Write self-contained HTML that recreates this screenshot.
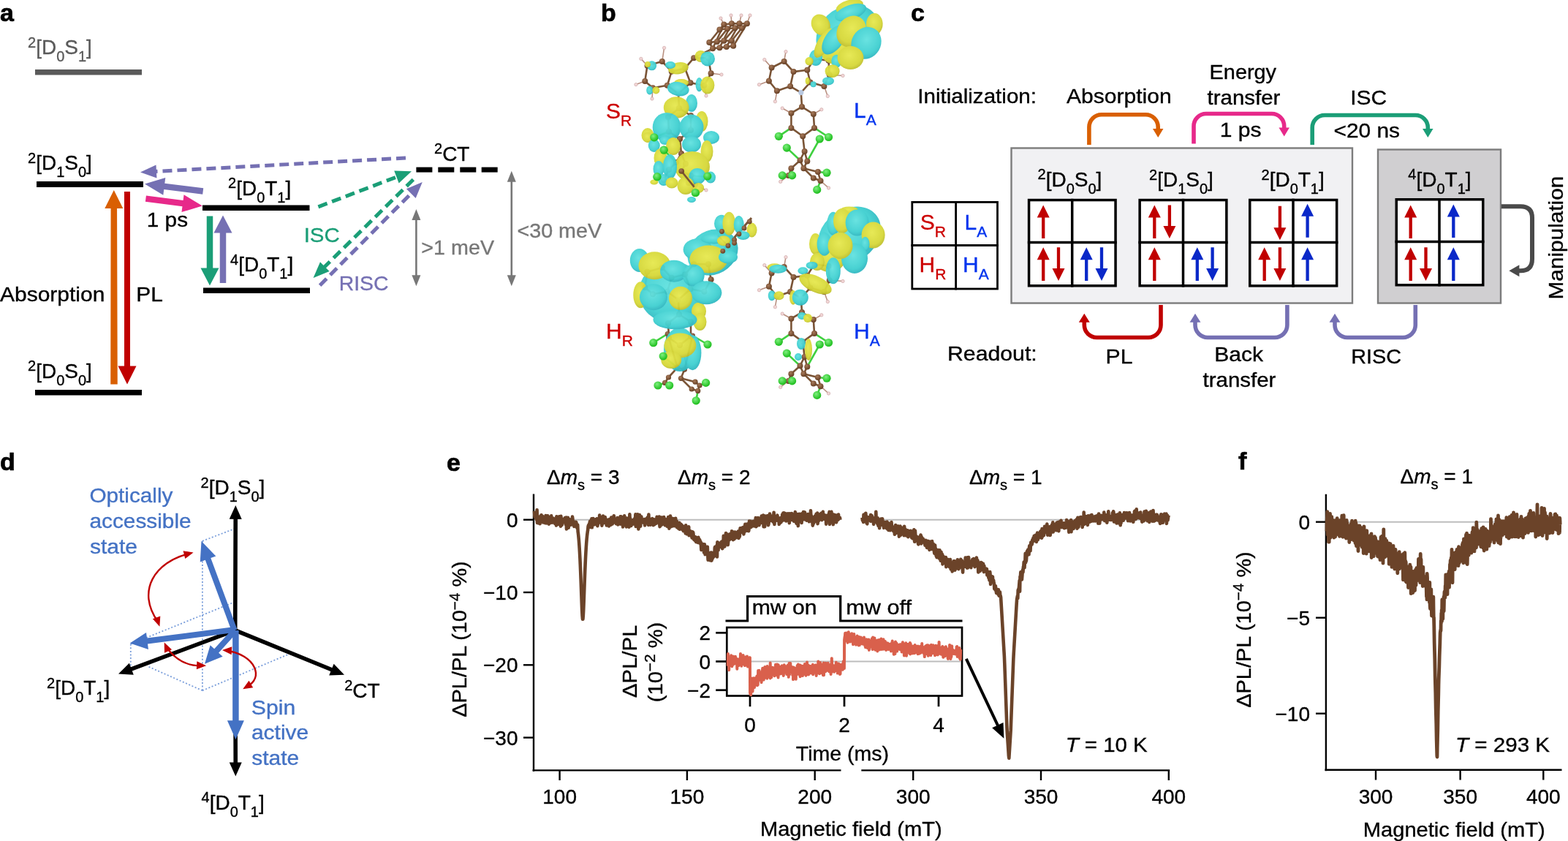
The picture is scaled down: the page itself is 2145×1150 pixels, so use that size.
<!DOCTYPE html>
<html><head><meta charset="utf-8"><title>Figure</title>
<style>
html,body{margin:0;padding:0;background:#fff;width:2145px;height:1150px;overflow:hidden}
svg{display:block}
text{font-family:'Liberation Sans', Arial, Helvetica, sans-serif;}
</style></head><body>
<svg width="2145" height="1150" viewBox="0 0 2145 1150">
<rect x="0" y="0" width="2145" height="1150" fill="#fff"/>
<text x="0" y="29" font-size="34" fill="#000" text-anchor="start" font-weight="bold" stroke="#000" stroke-width="0.7">a</text>
<text x="38" y="74" font-size="28" fill="#5a5a5a"  stroke="#5a5a5a" stroke-width="0.35"><tspan font-size="20" dy="-9.5">2</tspan><tspan dy="9.5">[D</tspan><tspan font-size="20" dy="10">0</tspan><tspan dy="-10">S</tspan><tspan font-size="20" dy="10">1</tspan><tspan dy="-10">]</tspan></text>
<rect x="48" y="95" width="146" height="7.5" fill="#5a5a5a" />
<text x="38" y="232" font-size="28" fill="#000"  stroke="#000" stroke-width="0.35"><tspan font-size="20" dy="-9.5">2</tspan><tspan dy="9.5">[D</tspan><tspan font-size="20" dy="10">1</tspan><tspan dy="-10">S</tspan><tspan font-size="20" dy="10">0</tspan><tspan dy="-10">]</tspan></text>
<rect x="50" y="248" width="146" height="8" fill="#000" />
<text x="38" y="516.7" font-size="28" fill="#000"  stroke="#000" stroke-width="0.35"><tspan font-size="20" dy="-9.5">2</tspan><tspan dy="9.5">[D</tspan><tspan font-size="20" dy="10">0</tspan><tspan dy="-10">S</tspan><tspan font-size="20" dy="10">0</tspan><tspan dy="-10">]</tspan></text>
<rect x="48" y="533" width="146" height="7.5" fill="#000" />
<text x="312" y="266.6" font-size="28" fill="#000"  stroke="#000" stroke-width="0.35"><tspan font-size="20" dy="-9.5">2</tspan><tspan dy="9.5">[D</tspan><tspan font-size="20" dy="10">0</tspan><tspan dy="-10">T</tspan><tspan font-size="20" dy="10">1</tspan><tspan dy="-10">]</tspan></text>
<rect x="277" y="280.5" width="146.5" height="7.5" fill="#000" />
<text x="315" y="371.4" font-size="28" fill="#000"  stroke="#000" stroke-width="0.35"><tspan font-size="20" dy="-9.5">4</tspan><tspan dy="9.5">[D</tspan><tspan font-size="20" dy="10">0</tspan><tspan dy="-10">T</tspan><tspan font-size="20" dy="10">1</tspan><tspan dy="-10">]</tspan></text>
<rect x="278" y="393.5" width="146" height="7.5" fill="#000" />
<text x="594" y="219.5" font-size="28" fill="#000" stroke="#000" stroke-width="0.35"><tspan font-size="20" dy="-9.5">2</tspan><tspan dy="9.5">CT</tspan></text>
<rect x="569.4" y="228.6" width="22" height="7" fill="#000" />
<rect x="599.3" y="228.6" width="22" height="7" fill="#000" />
<rect x="629.3" y="228.6" width="22" height="7" fill="#000" />
<rect x="658.7" y="228.6" width="22" height="7" fill="#000" />
<polygon points="160.75,525.5 160.07,285 168.32,284.99 155.8,260 143.32,285.01 151.57,285 151.25,525.5" fill="#d95f02"/>
<polygon points="170,262 170,500.5 161.5,500.5 174,525.5 186.5,500.5 178,500.5 178,262" fill="#c00000"/>
<text x="0" y="411.8" font-size="28" fill="#000" textLength="143.39" lengthAdjust="spacingAndGlyphs"  stroke="#000" stroke-width="0.35">Absorption</text>
<text x="186.34" y="411.8" font-size="28" fill="#000" textLength="36.56" lengthAdjust="spacingAndGlyphs"  stroke="#000" stroke-width="0.35">PL</text>
<polygon points="198.86,275.81 249.48,282.36 248.48,290.04 276.8,281.6 251.56,266.24 250.57,273.93 199.94,267.39" fill="#e7298a"/>
<polygon points="278.23,257.28 225.32,250.64 226.28,242.95 198,251.5 223.3,266.77 224.26,259.08 277.17,265.72" fill="#7570b3"/>
<text x="200.77" y="310" font-size="28" fill="#000" textLength="56.32" lengthAdjust="spacingAndGlyphs"  stroke="#000" stroke-width="0.35">1 ps</text>
<polygon points="282.75,295.4 282.75,366.6 274.5,366.6 287,390.6 299.5,366.6 291.25,366.6 291.25,295.4" fill="#1b9e77"/>
<polygon points="309.25,387 309.25,318.5 317.5,318.5 305,294.5 292.5,318.5 300.75,318.5 300.75,387" fill="#7570b3"/>
<line x1="555" y1="216" x2="211.97" y2="234.52" stroke="#7570b3" stroke-width="5" stroke-dasharray="13 7"/>
<polygon points="213.48,225.43 192,235.6 214.45,243.4" fill="#7570b3"/>
<line x1="435.4" y1="282.8" x2="544.31" y2="241.32" stroke="#1b9e77" stroke-width="5" stroke-dasharray="13 7"/>
<polygon points="545.64,250.44 563,234.2 539.24,233.62" fill="#1b9e77"/>
<line x1="565.4" y1="245.5" x2="442.86" y2="365.98" stroke="#1b9e77" stroke-width="5" stroke-dasharray="13 7"/>
<polygon points="437.98,358.16 428.6,380 450.6,370.99" fill="#1b9e77"/>
<line x1="437.6" y1="390.2" x2="563.71" y2="263.19" stroke="#7570b3" stroke-width="5" stroke-dasharray="13 7"/>
<polygon points="568.69,270.95 577.8,249 555.91,258.27" fill="#7570b3"/>
<text x="415.67" y="331" font-size="28" fill="#1b9e77" textLength="49.06" lengthAdjust="spacingAndGlyphs"  stroke="#1b9e77" stroke-width="0.35">ISC</text>
<text x="463.67" y="397" font-size="28" fill="#7570b3" textLength="67.74" lengthAdjust="spacingAndGlyphs"  stroke="#7570b3" stroke-width="0.35">RISC</text>
<line x1="569.4" y1="299" x2="569.4" y2="378.3" stroke="#777777" stroke-width="2.6" />
<polygon points="575.4,301 569.4,286 563.4,301" fill="#777777"/>
<polygon points="563.4,376.3 569.4,391.3 575.4,376.3" fill="#777777"/>
<line x1="699.8" y1="246.8" x2="699.8" y2="378.3" stroke="#777777" stroke-width="2.6" />
<polygon points="705.8,248.8 699.8,233.8 693.8,248.8" fill="#777777"/>
<polygon points="693.8,376.3 699.8,391.3 705.8,376.3" fill="#777777"/>
<text x="576.36" y="347.7" font-size="28" fill="#777777" textLength="99.71" lengthAdjust="spacingAndGlyphs"  stroke="#777777" stroke-width="0.35">&gt;1 meV</text>
<text x="707.47" y="324.7" font-size="28" fill="#777777" textLength="115.58" lengthAdjust="spacingAndGlyphs"  stroke="#777777" stroke-width="0.35">&lt;30 meV</text>
<text x="822" y="29" font-size="34" fill="#000" text-anchor="start" font-weight="bold" stroke="#000" stroke-width="0.7">b</text>
<text x="829" y="162" font-size="30" fill="#cc0000" stroke="#cc0000" stroke-width="0.35">S<tspan font-size="21" dy="10">R</tspan></text>
<text x="1168" y="161" font-size="30" fill="#0033ee" stroke="#0033ee" stroke-width="0.35">L<tspan font-size="21" dy="10">A</tspan></text>
<text x="829" y="462.8" font-size="30" fill="#cc0000" stroke="#cc0000" stroke-width="0.35">H<tspan font-size="21" dy="10">R</tspan></text>
<text x="1168" y="462.8" font-size="30" fill="#0033ee" stroke="#0033ee" stroke-width="0.35">H<tspan font-size="21" dy="10">A</tspan></text>
<defs>
<radialGradient id="gc" cx="45%" cy="40%" r="65%"><stop offset="0" stop-color="#62e2e0"/><stop offset="0.7" stop-color="#3fcfd0"/><stop offset="1" stop-color="#2aaebb"/></radialGradient>
<radialGradient id="gy" cx="45%" cy="40%" r="65%"><stop offset="0" stop-color="#e6e84e"/><stop offset="0.7" stop-color="#d6d838"/><stop offset="1" stop-color="#b8b82a"/></radialGradient>
<radialGradient id="gcl" cx="40%" cy="35%" r="60%"><stop offset="0" stop-color="#7ef07e"/><stop offset="1" stop-color="#22c022"/></radialGradient>
<radialGradient id="gbr" cx="40%" cy="35%" r="60%"><stop offset="0" stop-color="#a87a5a"/><stop offset="1" stop-color="#6a4328"/></radialGradient>
</defs>
<line x1="905.8" y1="83.9" x2="885.5" y2="89.8" stroke="#7a5436" stroke-width="2.6"/>
<line x1="885.5" y1="89.8" x2="882.3" y2="110.9" stroke="#7a5436" stroke-width="2.6"/>
<line x1="882.3" y1="110.9" x2="893" y2="120.3" stroke="#7a5436" stroke-width="2.6"/>
<line x1="893" y1="120.3" x2="912.8" y2="116.8" stroke="#7a5436" stroke-width="2.6"/>
<line x1="912.8" y1="116.8" x2="918.7" y2="97.8" stroke="#7a5436" stroke-width="2.6"/>
<line x1="918.7" y1="97.8" x2="905.8" y2="83.9" stroke="#7a5436" stroke-width="2.6"/>
<line x1="918.7" y1="97.8" x2="937" y2="93.3" stroke="#7a5436" stroke-width="2.6"/>
<line x1="937" y1="93.3" x2="944.5" y2="113.3" stroke="#7a5436" stroke-width="2.6"/>
<line x1="944.5" y1="113.3" x2="928" y2="128" stroke="#7a5436" stroke-width="2.6"/>
<line x1="928" y1="128" x2="912.8" y2="116.8" stroke="#7a5436" stroke-width="2.6"/>
<line x1="937" y1="93.3" x2="949.2" y2="79.2" stroke="#7a5436" stroke-width="2.6"/>
<line x1="949.2" y1="79.2" x2="969" y2="79.2" stroke="#7a5436" stroke-width="2.6"/>
<line x1="969" y1="79.2" x2="972.6" y2="100.3" stroke="#7a5436" stroke-width="2.6"/>
<line x1="972.6" y1="100.3" x2="963.4" y2="116.8" stroke="#7a5436" stroke-width="2.6"/>
<line x1="963.4" y1="116.8" x2="944.5" y2="113.3" stroke="#7a5436" stroke-width="2.6"/>
<line x1="928" y1="128" x2="929" y2="148" stroke="#7a5436" stroke-width="2.6"/>
<line x1="929" y1="148" x2="914" y2="160" stroke="#7a5436" stroke-width="2.6"/>
<line x1="914" y1="160" x2="915" y2="180" stroke="#7a5436" stroke-width="2.6"/>
<line x1="915" y1="180" x2="930" y2="190" stroke="#7a5436" stroke-width="2.6"/>
<line x1="930" y1="190" x2="945" y2="178" stroke="#7a5436" stroke-width="2.6"/>
<line x1="945" y1="178" x2="945" y2="158" stroke="#7a5436" stroke-width="2.6"/>
<line x1="945" y1="158" x2="929" y2="148" stroke="#7a5436" stroke-width="2.6"/>
<line x1="930" y1="190" x2="932" y2="210" stroke="#7a5436" stroke-width="2.6"/>
<line x1="932" y1="210" x2="925" y2="222" stroke="#7a5436" stroke-width="2.6"/>
<line x1="932" y1="210" x2="938" y2="224" stroke="#7a5436" stroke-width="2.6"/>
<line x1="925" y1="222" x2="915" y2="232" stroke="#7a5436" stroke-width="2.6"/>
<line x1="915" y1="232" x2="908" y2="246" stroke="#7a5436" stroke-width="2.6"/>
<line x1="938" y1="224" x2="932" y2="234" stroke="#7a5436" stroke-width="2.6"/>
<line x1="932" y1="234" x2="945" y2="240" stroke="#7a5436" stroke-width="2.6"/>
<line x1="945" y1="240" x2="951" y2="253" stroke="#7a5436" stroke-width="2.6"/>
<line x1="951" y1="253" x2="942" y2="250" stroke="#7a5436" stroke-width="2.6"/>
<line x1="942" y1="250" x2="932" y2="234" stroke="#7a5436" stroke-width="2.6"/>
<line x1="970.3" y1="58" x2="975" y2="66.3" stroke="#7a5436" stroke-width="2.6"/>
<line x1="975" y1="66.3" x2="984.4" y2="65.2" stroke="#7a5436" stroke-width="2.6"/>
<line x1="984.4" y1="65.2" x2="993.8" y2="64" stroke="#7a5436" stroke-width="2.6"/>
<line x1="993.8" y1="64" x2="1003.2" y2="62.8" stroke="#7a5436" stroke-width="2.6"/>
<line x1="970.3" y1="58" x2="980.9" y2="56.9" stroke="#7a5436" stroke-width="2.6"/>
<line x1="980.9" y1="56.9" x2="990.3" y2="55.7" stroke="#7a5436" stroke-width="2.6"/>
<line x1="990.3" y1="55.7" x2="1000.9" y2="55.7" stroke="#7a5436" stroke-width="2.6"/>
<line x1="1000.9" y1="55.7" x2="1003.2" y2="62.8" stroke="#7a5436" stroke-width="2.6"/>
<line x1="984.4" y1="40.5" x2="990.3" y2="33.5" stroke="#7a5436" stroke-width="2.6"/>
<line x1="984.4" y1="40.5" x2="995" y2="39.3" stroke="#7a5436" stroke-width="2.6"/>
<line x1="995" y1="39.3" x2="1005.5" y2="38.2" stroke="#7a5436" stroke-width="2.6"/>
<line x1="1005.5" y1="38.2" x2="1014.9" y2="38.2" stroke="#7a5436" stroke-width="2.6"/>
<line x1="1014.9" y1="38.2" x2="1021.9" y2="32.3" stroke="#7a5436" stroke-width="2.6"/>
<line x1="990.3" y1="33.5" x2="1000.9" y2="32.3" stroke="#7a5436" stroke-width="2.6"/>
<line x1="1000.9" y1="32.3" x2="1011.4" y2="32.3" stroke="#7a5436" stroke-width="2.6"/>
<line x1="1011.4" y1="32.3" x2="1021.9" y2="32.3" stroke="#7a5436" stroke-width="2.6"/>
<line x1="970.3" y1="58" x2="984.4" y2="40.5" stroke="#7a5436" stroke-width="2.6"/>
<line x1="980.9" y1="56.9" x2="995" y2="39.3" stroke="#7a5436" stroke-width="2.6"/>
<line x1="990.3" y1="55.7" x2="1005.5" y2="38.2" stroke="#7a5436" stroke-width="2.6"/>
<line x1="1000.9" y1="55.7" x2="1014.9" y2="38.2" stroke="#7a5436" stroke-width="2.6"/>
<line x1="975" y1="66.3" x2="990.3" y2="33.5" stroke="#7a5436" stroke-width="2.6"/>
<line x1="984.4" y1="65.2" x2="1000.9" y2="32.3" stroke="#7a5436" stroke-width="2.6"/>
<line x1="993.8" y1="64" x2="1011.4" y2="32.3" stroke="#7a5436" stroke-width="2.6"/>
<line x1="1003.2" y1="62.8" x2="1021.9" y2="32.3" stroke="#7a5436" stroke-width="2.6"/>
<line x1="949.2" y1="79.2" x2="975" y2="66.3" stroke="#7a5436" stroke-width="2.6"/>
<line x1="915" y1="180" x2="895" y2="188" stroke="#3fd03f" stroke-width="2.6"/>
<line x1="925" y1="222" x2="908" y2="205" stroke="#3fd03f" stroke-width="2.6"/>
<line x1="908" y1="246" x2="899" y2="242" stroke="#3fd03f" stroke-width="2.6"/>
<line x1="951" y1="253" x2="951.5" y2="263.5" stroke="#3fd03f" stroke-width="2.6"/>
<line x1="945" y1="240" x2="969" y2="242" stroke="#3fd03f" stroke-width="2.6"/>
<line x1="905.8" y1="83.9" x2="908.6" y2="65.5" stroke="#b89080" stroke-width="1.6"/>
<circle cx="908.6" cy="65.5" r="2.2" fill="#f2d6d6" stroke="#c8a0a0" stroke-width="0.6"/>
<line x1="885.5" y1="89.8" x2="876.9" y2="80.4" stroke="#b89080" stroke-width="1.6"/>
<circle cx="876.9" cy="80.4" r="2.2" fill="#f2d6d6" stroke="#c8a0a0" stroke-width="0.6"/>
<line x1="882.3" y1="110.9" x2="870" y2="115.6" stroke="#b89080" stroke-width="1.6"/>
<circle cx="870" cy="115.6" r="2.2" fill="#f2d6d6" stroke="#c8a0a0" stroke-width="0.6"/>
<line x1="893" y1="120.3" x2="892" y2="135" stroke="#b89080" stroke-width="1.6"/>
<circle cx="892" cy="135" r="2.2" fill="#f2d6d6" stroke="#c8a0a0" stroke-width="0.6"/>
<line x1="972.6" y1="100.3" x2="987" y2="102" stroke="#b89080" stroke-width="1.6"/>
<circle cx="987" cy="102" r="2.2" fill="#f2d6d6" stroke="#c8a0a0" stroke-width="0.6"/>
<line x1="963.4" y1="116.8" x2="966" y2="131" stroke="#b89080" stroke-width="1.6"/>
<circle cx="966" cy="131" r="2.2" fill="#f2d6d6" stroke="#c8a0a0" stroke-width="0.6"/>
<line x1="990.3" y1="33.5" x2="986" y2="25" stroke="#b89080" stroke-width="1.6"/>
<circle cx="986" cy="25" r="2.2" fill="#f2d6d6" stroke="#c8a0a0" stroke-width="0.6"/>
<line x1="1000.9" y1="32.3" x2="1000" y2="21" stroke="#b89080" stroke-width="1.6"/>
<circle cx="1000" cy="21" r="2.2" fill="#f2d6d6" stroke="#c8a0a0" stroke-width="0.6"/>
<line x1="1011.4" y1="32.3" x2="1014" y2="21" stroke="#b89080" stroke-width="1.6"/>
<circle cx="1014" cy="21" r="2.2" fill="#f2d6d6" stroke="#c8a0a0" stroke-width="0.6"/>
<line x1="1021.9" y1="32.3" x2="1026" y2="21" stroke="#b89080" stroke-width="1.6"/>
<circle cx="1026" cy="21" r="2.2" fill="#f2d6d6" stroke="#c8a0a0" stroke-width="0.6"/>
<line x1="951" y1="253" x2="966" y2="260" stroke="#b89080" stroke-width="1.6"/>
<circle cx="966" cy="260" r="2.2" fill="#f2d6d6" stroke="#c8a0a0" stroke-width="0.6"/>
<line x1="975" y1="66.3" x2="966" y2="75" stroke="#b89080" stroke-width="1.6"/>
<circle cx="966" cy="75" r="2.2" fill="#f2d6d6" stroke="#c8a0a0" stroke-width="0.6"/>
<circle cx="905.8" cy="83.9" r="4.0" fill="url(#gbr)"/>
<circle cx="885.5" cy="89.8" r="4.0" fill="url(#gbr)"/>
<circle cx="882.3" cy="110.9" r="4.0" fill="url(#gbr)"/>
<circle cx="893" cy="120.3" r="4.0" fill="url(#gbr)"/>
<circle cx="912.8" cy="116.8" r="4.0" fill="url(#gbr)"/>
<circle cx="918.7" cy="97.8" r="4.0" fill="url(#gbr)"/>
<circle cx="937" cy="93.3" r="4.0" fill="url(#gbr)"/>
<circle cx="944.5" cy="113.3" r="4.0" fill="url(#gbr)"/>
<circle cx="928" cy="128" r="3.6" fill="#b8c8e0"/>
<circle cx="963.4" cy="116.8" r="4.0" fill="url(#gbr)"/>
<circle cx="972.6" cy="100.3" r="4.0" fill="url(#gbr)"/>
<circle cx="969" cy="79.2" r="4.0" fill="url(#gbr)"/>
<circle cx="949.2" cy="79.2" r="4.0" fill="url(#gbr)"/>
<circle cx="929" cy="148" r="4.0" fill="url(#gbr)"/>
<circle cx="914" cy="160" r="4.0" fill="url(#gbr)"/>
<circle cx="915" cy="180" r="4.0" fill="url(#gbr)"/>
<circle cx="930" cy="190" r="4.0" fill="url(#gbr)"/>
<circle cx="945" cy="178" r="4.0" fill="url(#gbr)"/>
<circle cx="945" cy="158" r="4.0" fill="url(#gbr)"/>
<circle cx="932" cy="210" r="4.0" fill="url(#gbr)"/>
<circle cx="925" cy="222" r="4.0" fill="url(#gbr)"/>
<circle cx="938" cy="224" r="4.0" fill="url(#gbr)"/>
<circle cx="915" cy="232" r="4.0" fill="url(#gbr)"/>
<circle cx="908" cy="246" r="4.0" fill="url(#gbr)"/>
<circle cx="932" cy="234" r="4.0" fill="url(#gbr)"/>
<circle cx="945" cy="240" r="4.0" fill="url(#gbr)"/>
<circle cx="951" cy="253" r="4.0" fill="url(#gbr)"/>
<circle cx="942" cy="250" r="4.0" fill="url(#gbr)"/>
<circle cx="970.3" cy="58" r="4.0" fill="url(#gbr)"/>
<circle cx="980.9" cy="56.9" r="4.0" fill="url(#gbr)"/>
<circle cx="990.3" cy="55.7" r="4.0" fill="url(#gbr)"/>
<circle cx="1000.9" cy="55.7" r="4.0" fill="url(#gbr)"/>
<circle cx="975" cy="66.3" r="4.0" fill="url(#gbr)"/>
<circle cx="984.4" cy="65.2" r="4.0" fill="url(#gbr)"/>
<circle cx="993.8" cy="64" r="4.0" fill="url(#gbr)"/>
<circle cx="1003.2" cy="62.8" r="4.0" fill="url(#gbr)"/>
<circle cx="984.4" cy="40.5" r="4.0" fill="url(#gbr)"/>
<circle cx="995" cy="39.3" r="4.0" fill="url(#gbr)"/>
<circle cx="1005.5" cy="38.2" r="4.0" fill="url(#gbr)"/>
<circle cx="1014.9" cy="38.2" r="4.0" fill="url(#gbr)"/>
<circle cx="990.3" cy="33.5" r="4.0" fill="url(#gbr)"/>
<circle cx="1000.9" cy="32.3" r="4.0" fill="url(#gbr)"/>
<circle cx="1011.4" cy="32.3" r="4.0" fill="url(#gbr)"/>
<circle cx="1021.9" cy="32.3" r="4.0" fill="url(#gbr)"/>
<circle cx="895" cy="188" r="5.6" fill="url(#gcl)"/>
<circle cx="908" cy="205" r="5.6" fill="url(#gcl)"/>
<circle cx="899" cy="242" r="5.6" fill="url(#gcl)"/>
<circle cx="951.5" cy="263.5" r="5.6" fill="url(#gcl)"/>
<circle cx="969" cy="242" r="5.6" fill="url(#gcl)"/>
<g opacity="0.95"><ellipse cx="888.7" cy="123.5" rx="4.5" ry="6" fill="url(#gc)"/>
<ellipse cx="897.4" cy="123.5" rx="5" ry="5" fill="url(#gy)"/>
<ellipse cx="932.2" cy="113" rx="10" ry="5" fill="url(#gy)"/>
<ellipse cx="956.5" cy="115.7" rx="5" ry="9.6" fill="url(#gc)"/>
<ellipse cx="967.8" cy="116.5" rx="9.6" ry="12" fill="url(#gy)"/>
<ellipse cx="891.7" cy="89.8" rx="6.5" ry="6.5" fill="url(#gc)"/>
<ellipse cx="886" cy="88" rx="4" ry="4" fill="url(#gy)"/>
<ellipse cx="928" cy="93.3" rx="14" ry="8" fill="url(#gy)" transform="rotate(-10 928 93.3)"/>
<ellipse cx="917" cy="89" rx="7" ry="5" fill="url(#gc)"/>
<ellipse cx="958.6" cy="77" rx="8" ry="8" fill="url(#gy)"/>
<ellipse cx="968" cy="80.4" rx="10" ry="10" fill="url(#gc)"/>
<ellipse cx="946" cy="140.9" rx="8" ry="12" fill="url(#gc)"/>
<ellipse cx="927.8" cy="121.7" rx="15" ry="9.6" fill="url(#gc)" transform="rotate(10 927.8 121.7)"/>
<ellipse cx="925.2" cy="147" rx="17.4" ry="14.8" fill="url(#gy)"/>
<ellipse cx="960" cy="166" rx="8.5" ry="14" fill="url(#gy)"/>
<ellipse cx="886" cy="185" rx="8.5" ry="10" fill="url(#gy)"/>
<ellipse cx="912.2" cy="174" rx="19.5" ry="20" fill="url(#gc)"/>
<ellipse cx="946" cy="174" rx="16.5" ry="17.4" fill="url(#gc)"/>
<ellipse cx="886" cy="187.8" rx="7" ry="7" fill="url(#gy)"/>
<ellipse cx="973" cy="188" rx="11" ry="9" fill="url(#gc)"/>
<ellipse cx="894.8" cy="199" rx="8" ry="9" fill="url(#gc)"/>
<ellipse cx="909.6" cy="192" rx="7.5" ry="6" fill="url(#gc)"/>
<ellipse cx="921" cy="200" rx="10" ry="12" fill="url(#gy)"/>
<ellipse cx="946" cy="197.4" rx="13" ry="11" fill="url(#gc)"/>
<ellipse cx="967" cy="207" rx="8.5" ry="15" fill="url(#gy)"/>
<ellipse cx="947" cy="228" rx="24" ry="21" fill="url(#gy)"/>
<ellipse cx="903.5" cy="216" rx="9" ry="13" fill="url(#gy)"/>
<ellipse cx="901" cy="231" rx="7.5" ry="11" fill="url(#gc)"/>
<ellipse cx="916.5" cy="228" rx="9.5" ry="17" fill="url(#gc)"/>
<ellipse cx="954" cy="241" rx="11.5" ry="11" fill="url(#gc)"/>
<ellipse cx="907.8" cy="246" rx="7.5" ry="8" fill="url(#gc)"/>
<ellipse cx="919" cy="250" rx="8.5" ry="7.5" fill="url(#gy)"/>
<ellipse cx="938" cy="254" rx="11.5" ry="12" fill="url(#gy)"/>
<ellipse cx="955.6" cy="257" rx="7.5" ry="7" fill="url(#gy)"/>
<ellipse cx="972" cy="242.6" rx="7" ry="8" fill="url(#gc)"/>
<ellipse cx="946" cy="273" rx="6" ry="4" fill="url(#gc)"/>
<ellipse cx="894.8" cy="249" rx="5.5" ry="3.5" fill="url(#gy)"/></g>
<circle cx="894.8" cy="187.8" r="5.6" fill="url(#gcl)"/><circle cx="908.3" cy="205.2" r="5.6" fill="url(#gcl)"/><circle cx="899" cy="241.7" r="5.6" fill="url(#gcl)"/><circle cx="951.3" cy="263.5" r="5.6" fill="url(#gcl)"/><circle cx="967.8" cy="241" r="5.6" fill="url(#gcl)"/>
<line x1="932.2" y1="234" x2="949.6" y2="255.6" stroke="#7a5436" stroke-width="2.6"/><circle cx="932.2" cy="234" r="3.8" fill="url(#gbr)"/>
<line x1="1072.6" y1="84" x2="1055.6" y2="92.5" stroke="#7a5436" stroke-width="2.6"/>
<line x1="1055.6" y1="92.5" x2="1051.9" y2="110.8" stroke="#7a5436" stroke-width="2.6"/>
<line x1="1051.9" y1="110.8" x2="1062.9" y2="124.2" stroke="#7a5436" stroke-width="2.6"/>
<line x1="1062.9" y1="124.2" x2="1081.1" y2="118.1" stroke="#7a5436" stroke-width="2.6"/>
<line x1="1081.1" y1="118.1" x2="1085.5" y2="98.1" stroke="#7a5436" stroke-width="2.6"/>
<line x1="1085.5" y1="98.1" x2="1072.6" y2="84" stroke="#7a5436" stroke-width="2.6"/>
<line x1="1085.5" y1="98.1" x2="1104.3" y2="95.7" stroke="#7a5436" stroke-width="2.6"/>
<line x1="1104.3" y1="95.7" x2="1108.4" y2="112.5" stroke="#7a5436" stroke-width="2.6"/>
<line x1="1108.4" y1="112.5" x2="1095.8" y2="126.6" stroke="#7a5436" stroke-width="2.6"/>
<line x1="1095.8" y1="126.6" x2="1081.1" y2="118.1" stroke="#7a5436" stroke-width="2.6"/>
<line x1="1104.3" y1="95.7" x2="1114" y2="80.4" stroke="#7a5436" stroke-width="2.6"/>
<line x1="1114" y1="80.4" x2="1133.5" y2="82.8" stroke="#7a5436" stroke-width="2.6"/>
<line x1="1133.5" y1="82.8" x2="1134.7" y2="102.3" stroke="#7a5436" stroke-width="2.6"/>
<line x1="1134.7" y1="102.3" x2="1127.4" y2="118.1" stroke="#7a5436" stroke-width="2.6"/>
<line x1="1127.4" y1="118.1" x2="1108.4" y2="112.5" stroke="#7a5436" stroke-width="2.6"/>
<line x1="1095.8" y1="126.6" x2="1097" y2="146.1" stroke="#7a5436" stroke-width="2.6"/>
<line x1="1097" y1="146.1" x2="1082.4" y2="154.7" stroke="#7a5436" stroke-width="2.6"/>
<line x1="1082.4" y1="154.7" x2="1082.4" y2="174.9" stroke="#7a5436" stroke-width="2.6"/>
<line x1="1082.4" y1="174.9" x2="1098.2" y2="186.3" stroke="#7a5436" stroke-width="2.6"/>
<line x1="1098.2" y1="186.3" x2="1114" y2="174.9" stroke="#7a5436" stroke-width="2.6"/>
<line x1="1114" y1="174.9" x2="1112.8" y2="155.9" stroke="#7a5436" stroke-width="2.6"/>
<line x1="1112.8" y1="155.9" x2="1097" y2="146.1" stroke="#7a5436" stroke-width="2.6"/>
<line x1="1098.2" y1="186.3" x2="1100.6" y2="207" stroke="#7a5436" stroke-width="2.6"/>
<line x1="1100.6" y1="207" x2="1094.5" y2="219.2" stroke="#7a5436" stroke-width="2.6"/>
<line x1="1100.6" y1="207" x2="1104.3" y2="220.4" stroke="#7a5436" stroke-width="2.6"/>
<line x1="1094.5" y1="219.2" x2="1082.4" y2="230.2" stroke="#7a5436" stroke-width="2.6"/>
<line x1="1082.4" y1="230.2" x2="1078.7" y2="239.9" stroke="#7a5436" stroke-width="2.6"/>
<line x1="1104.3" y1="220.4" x2="1099.4" y2="230.2" stroke="#7a5436" stroke-width="2.6"/>
<line x1="1099.4" y1="230.2" x2="1118.9" y2="235" stroke="#7a5436" stroke-width="2.6"/>
<line x1="1118.9" y1="235" x2="1122.5" y2="247.2" stroke="#7a5436" stroke-width="2.6"/>
<line x1="1122.5" y1="247.2" x2="1112.8" y2="243.5" stroke="#7a5436" stroke-width="2.6"/>
<line x1="1112.8" y1="243.5" x2="1099.4" y2="230.2" stroke="#7a5436" stroke-width="2.6"/>
<line x1="1094.5" y1="219.2" x2="1099.4" y2="230.2" stroke="#7a5436" stroke-width="2.6"/>
<line x1="1082.4" y1="174.9" x2="1065.3" y2="186.3" stroke="#3fd03f" stroke-width="2.6"/>
<line x1="1114" y1="174.9" x2="1133.5" y2="187.5" stroke="#3fd03f" stroke-width="2.6"/>
<line x1="1094.5" y1="219.2" x2="1076.3" y2="202.1" stroke="#3fd03f" stroke-width="2.6"/>
<line x1="1104.3" y1="220.4" x2="1121.3" y2="190" stroke="#3fd03f" stroke-width="2.6"/>
<line x1="1078.7" y1="239.9" x2="1070.2" y2="239.9" stroke="#3fd03f" stroke-width="2.6"/>
<line x1="1082.4" y1="230.2" x2="1083.6" y2="239.9" stroke="#3fd03f" stroke-width="2.6"/>
<line x1="1118.9" y1="235" x2="1131" y2="236.2" stroke="#3fd03f" stroke-width="2.6"/>
<line x1="1122.5" y1="247.2" x2="1117.7" y2="259.4" stroke="#3fd03f" stroke-width="2.6"/>
<line x1="1072.6" y1="84" x2="1075" y2="70.6" stroke="#b89080" stroke-width="1.6"/>
<circle cx="1075" cy="70.6" r="2.2" fill="#f2d6d6" stroke="#c8a0a0" stroke-width="0.6"/>
<line x1="1055.6" y1="92.5" x2="1045.8" y2="81.6" stroke="#b89080" stroke-width="1.6"/>
<circle cx="1045.8" cy="81.6" r="2.2" fill="#f2d6d6" stroke="#c8a0a0" stroke-width="0.6"/>
<line x1="1051.9" y1="110.8" x2="1038.5" y2="115.7" stroke="#b89080" stroke-width="1.6"/>
<circle cx="1038.5" cy="115.7" r="2.2" fill="#f2d6d6" stroke="#c8a0a0" stroke-width="0.6"/>
<line x1="1062.9" y1="124.2" x2="1060.4" y2="138.8" stroke="#b89080" stroke-width="1.6"/>
<circle cx="1060.4" cy="138.8" r="2.2" fill="#f2d6d6" stroke="#c8a0a0" stroke-width="0.6"/>
<line x1="1082.4" y1="154.7" x2="1070.2" y2="148" stroke="#b89080" stroke-width="1.6"/>
<circle cx="1070.2" cy="148" r="2.2" fill="#f2d6d6" stroke="#c8a0a0" stroke-width="0.6"/>
<line x1="1112.8" y1="155.9" x2="1123.8" y2="149.8" stroke="#b89080" stroke-width="1.6"/>
<circle cx="1123.8" cy="149.8" r="2.2" fill="#f2d6d6" stroke="#c8a0a0" stroke-width="0.6"/>
<line x1="1127.4" y1="118.1" x2="1132.3" y2="131.5" stroke="#b89080" stroke-width="1.6"/>
<circle cx="1132.3" cy="131.5" r="2.2" fill="#f2d6d6" stroke="#c8a0a0" stroke-width="0.6"/>
<line x1="1134.7" y1="102.3" x2="1153" y2="103.5" stroke="#b89080" stroke-width="1.6"/>
<circle cx="1153" cy="103.5" r="2.2" fill="#f2d6d6" stroke="#c8a0a0" stroke-width="0.6"/>
<line x1="1078.7" y1="239.9" x2="1067.7" y2="248.4" stroke="#b89080" stroke-width="1.6"/>
<circle cx="1067.7" cy="248.4" r="2.2" fill="#f2d6d6" stroke="#c8a0a0" stroke-width="0.6"/>
<line x1="1122.5" y1="247.2" x2="1133.5" y2="257" stroke="#b89080" stroke-width="1.6"/>
<circle cx="1133.5" cy="257" r="2.2" fill="#f2d6d6" stroke="#c8a0a0" stroke-width="0.6"/>
<circle cx="1072.6" cy="84" r="4.0" fill="url(#gbr)"/>
<circle cx="1055.6" cy="92.5" r="4.0" fill="url(#gbr)"/>
<circle cx="1051.9" cy="110.8" r="4.0" fill="url(#gbr)"/>
<circle cx="1062.9" cy="124.2" r="4.0" fill="url(#gbr)"/>
<circle cx="1081.1" cy="118.1" r="4.0" fill="url(#gbr)"/>
<circle cx="1085.5" cy="98.1" r="4.0" fill="url(#gbr)"/>
<circle cx="1104.3" cy="95.7" r="4.0" fill="url(#gbr)"/>
<circle cx="1108.4" cy="112.5" r="4.0" fill="url(#gbr)"/>
<circle cx="1095.8" cy="126.6" r="3.6" fill="#b8c8e0"/>
<circle cx="1127.4" cy="118.1" r="4.0" fill="url(#gbr)"/>
<circle cx="1134.7" cy="102.3" r="4.0" fill="url(#gbr)"/>
<circle cx="1133.5" cy="82.8" r="4.0" fill="url(#gbr)"/>
<circle cx="1114" cy="80.4" r="4.0" fill="url(#gbr)"/>
<circle cx="1097" cy="146.1" r="4.0" fill="url(#gbr)"/>
<circle cx="1082.4" cy="154.7" r="4.0" fill="url(#gbr)"/>
<circle cx="1082.4" cy="174.9" r="4.0" fill="url(#gbr)"/>
<circle cx="1098.2" cy="186.3" r="4.0" fill="url(#gbr)"/>
<circle cx="1114" cy="174.9" r="4.0" fill="url(#gbr)"/>
<circle cx="1112.8" cy="155.9" r="4.0" fill="url(#gbr)"/>
<circle cx="1100.6" cy="207" r="4.0" fill="url(#gbr)"/>
<circle cx="1094.5" cy="219.2" r="4.0" fill="url(#gbr)"/>
<circle cx="1104.3" cy="220.4" r="4.0" fill="url(#gbr)"/>
<circle cx="1082.4" cy="230.2" r="4.0" fill="url(#gbr)"/>
<circle cx="1078.7" cy="239.9" r="4.0" fill="url(#gbr)"/>
<circle cx="1099.4" cy="230.2" r="4.0" fill="url(#gbr)"/>
<circle cx="1118.9" cy="235" r="4.0" fill="url(#gbr)"/>
<circle cx="1122.5" cy="247.2" r="4.0" fill="url(#gbr)"/>
<circle cx="1112.8" cy="243.5" r="4.0" fill="url(#gbr)"/>
<circle cx="1065.3" cy="186.3" r="5.6" fill="url(#gcl)"/>
<circle cx="1133.5" cy="187.5" r="5.6" fill="url(#gcl)"/>
<circle cx="1076.3" cy="202.1" r="5.6" fill="url(#gcl)"/>
<circle cx="1121.3" cy="190" r="5.6" fill="url(#gcl)"/>
<circle cx="1070.2" cy="239.9" r="5.6" fill="url(#gcl)"/>
<circle cx="1083.6" cy="239.9" r="5.6" fill="url(#gcl)"/>
<circle cx="1131" cy="236.2" r="5.6" fill="url(#gcl)"/>
<circle cx="1117.7" cy="259.4" r="5.6" fill="url(#gcl)"/>
<g opacity="0.95"><ellipse cx="1160" cy="47" rx="46" ry="38" fill="url(#gc)" transform="rotate(-35 1160 47)"/>
<ellipse cx="1150" cy="62" rx="30" ry="24" fill="url(#gy)" transform="rotate(-35 1150 62)"/>
<ellipse cx="1122.8" cy="33.9" rx="12.4" ry="15" fill="url(#gy)" transform="rotate(-30 1122.8 33.9)"/>
<ellipse cx="1162.3" cy="9" rx="19" ry="9" fill="url(#gy)" transform="rotate(-15 1162.3 9)"/>
<ellipse cx="1116" cy="79" rx="9" ry="11" fill="url(#gc)"/>
<ellipse cx="1107" cy="83.7" rx="5.6" ry="5.6" fill="url(#gy)"/>
<ellipse cx="1144.3" cy="83.7" rx="7" ry="9" fill="url(#gc)"/>
<ellipse cx="1127.3" cy="58.8" rx="9" ry="22.6" fill="url(#gy)" transform="rotate(30 1127.3 58.8)"/>
<ellipse cx="1140.9" cy="54.3" rx="12.4" ry="23" fill="url(#gc)" transform="rotate(35 1140.9 54.3)"/>
<ellipse cx="1163.5" cy="17" rx="22.6" ry="10" fill="url(#gc)" transform="rotate(-20 1163.5 17)"/>
<ellipse cx="1196.3" cy="32.8" rx="11.3" ry="14.7" fill="url(#gy)"/>
<ellipse cx="1164.6" cy="43" rx="19" ry="22.6" fill="url(#gy)" transform="rotate(35 1164.6 43)"/>
<ellipse cx="1185" cy="58.8" rx="20" ry="22.6" fill="url(#gc)" transform="rotate(30 1185 58.8)"/>
<ellipse cx="1163.5" cy="79" rx="18" ry="16" fill="url(#gy)"/>
<ellipse cx="1138.6" cy="97.2" rx="10" ry="9" fill="url(#gy)"/>
<ellipse cx="1133" cy="110.8" rx="8" ry="5.6" fill="url(#gc)"/>
<ellipse cx="1112.6" cy="115.3" rx="4" ry="4" fill="url(#gc)"/>
<ellipse cx="1104.7" cy="110.8" rx="3" ry="5" fill="url(#gy)"/></g>
<line x1="905.8" y1="365.9" x2="885.5" y2="371.8" stroke="#7a5436" stroke-width="2.6"/>
<line x1="885.5" y1="371.8" x2="882.3" y2="392.9" stroke="#7a5436" stroke-width="2.6"/>
<line x1="882.3" y1="392.9" x2="893" y2="402.3" stroke="#7a5436" stroke-width="2.6"/>
<line x1="893" y1="402.3" x2="912.8" y2="398.8" stroke="#7a5436" stroke-width="2.6"/>
<line x1="912.8" y1="398.8" x2="918.7" y2="379.8" stroke="#7a5436" stroke-width="2.6"/>
<line x1="918.7" y1="379.8" x2="905.8" y2="365.9" stroke="#7a5436" stroke-width="2.6"/>
<line x1="918.7" y1="379.8" x2="937" y2="375.3" stroke="#7a5436" stroke-width="2.6"/>
<line x1="937" y1="375.3" x2="944.5" y2="395.3" stroke="#7a5436" stroke-width="2.6"/>
<line x1="944.5" y1="395.3" x2="928" y2="410" stroke="#7a5436" stroke-width="2.6"/>
<line x1="928" y1="410" x2="912.8" y2="398.8" stroke="#7a5436" stroke-width="2.6"/>
<line x1="937" y1="375.3" x2="949.2" y2="361.2" stroke="#7a5436" stroke-width="2.6"/>
<line x1="949.2" y1="361.2" x2="969" y2="361.2" stroke="#7a5436" stroke-width="2.6"/>
<line x1="969" y1="361.2" x2="972.6" y2="382.3" stroke="#7a5436" stroke-width="2.6"/>
<line x1="972.6" y1="382.3" x2="963.4" y2="398.8" stroke="#7a5436" stroke-width="2.6"/>
<line x1="963.4" y1="398.8" x2="944.5" y2="395.3" stroke="#7a5436" stroke-width="2.6"/>
<line x1="928" y1="410" x2="929" y2="430" stroke="#7a5436" stroke-width="2.6"/>
<line x1="929" y1="430" x2="914" y2="442" stroke="#7a5436" stroke-width="2.6"/>
<line x1="914" y1="442" x2="915" y2="462" stroke="#7a5436" stroke-width="2.6"/>
<line x1="915" y1="462" x2="930" y2="472" stroke="#7a5436" stroke-width="2.6"/>
<line x1="930" y1="472" x2="945" y2="460" stroke="#7a5436" stroke-width="2.6"/>
<line x1="945" y1="460" x2="945" y2="440" stroke="#7a5436" stroke-width="2.6"/>
<line x1="945" y1="440" x2="929" y2="430" stroke="#7a5436" stroke-width="2.6"/>
<circle cx="905.8" cy="365.9" r="4.0" fill="url(#gbr)"/>
<circle cx="885.5" cy="371.8" r="4.0" fill="url(#gbr)"/>
<circle cx="882.3" cy="392.9" r="4.0" fill="url(#gbr)"/>
<circle cx="893" cy="402.3" r="4.0" fill="url(#gbr)"/>
<circle cx="912.8" cy="398.8" r="4.0" fill="url(#gbr)"/>
<circle cx="918.7" cy="379.8" r="4.0" fill="url(#gbr)"/>
<circle cx="937" cy="375.3" r="4.0" fill="url(#gbr)"/>
<circle cx="944.5" cy="395.3" r="4.0" fill="url(#gbr)"/>
<circle cx="928" cy="410" r="3.6" fill="#b8c8e0"/>
<circle cx="963.4" cy="398.8" r="4.0" fill="url(#gbr)"/>
<circle cx="972.6" cy="382.3" r="4.0" fill="url(#gbr)"/>
<circle cx="969" cy="361.2" r="4.0" fill="url(#gbr)"/>
<circle cx="949.2" cy="361.2" r="4.0" fill="url(#gbr)"/>
<circle cx="929" cy="430" r="4.0" fill="url(#gbr)"/>
<circle cx="914" cy="442" r="4.0" fill="url(#gbr)"/>
<circle cx="915" cy="462" r="4.0" fill="url(#gbr)"/>
<circle cx="930" cy="472" r="4.0" fill="url(#gbr)"/>
<circle cx="945" cy="460" r="4.0" fill="url(#gbr)"/>
<circle cx="945" cy="440" r="4.0" fill="url(#gbr)"/>
<line x1="913.3" y1="456.5" x2="926.7" y2="502.7" stroke="#7a5436" stroke-width="2.6"/><line x1="947.4" y1="459" x2="936.4" y2="505.2" stroke="#7a5436" stroke-width="2.6"/><line x1="926.7" y1="502.7" x2="936.4" y2="505.2" stroke="#7a5436" stroke-width="2.6"/><line x1="926.7" y1="502.7" x2="914.5" y2="516" stroke="#7a5436" stroke-width="2.6"/><line x1="914.5" y1="516" x2="909.6" y2="523.4" stroke="#7a5436" stroke-width="2.6"/><line x1="936.4" y1="505.2" x2="931.5" y2="517.3" stroke="#7a5436" stroke-width="2.6"/><line x1="931.5" y1="517.3" x2="946.2" y2="532" stroke="#7a5436" stroke-width="2.6"/><line x1="946.2" y1="532" x2="954.7" y2="534.4" stroke="#7a5436" stroke-width="2.6"/><line x1="931.5" y1="517.3" x2="951" y2="522.2" stroke="#7a5436" stroke-width="2.6"/><line x1="951" y1="522.2" x2="957" y2="527" stroke="#7a5436" stroke-width="2.6"/><line x1="957" y1="527" x2="954.7" y2="534.4" stroke="#7a5436" stroke-width="2.6"/>
<line x1="893.8" y1="468.7" x2="913.3" y2="456.5" stroke="#3fd03f" stroke-width="2.6"/><line x1="968" y1="471" x2="947.4" y2="459" stroke="#3fd03f" stroke-width="2.6"/><line x1="907.2" y1="487" x2="926.7" y2="502.7" stroke="#3fd03f" stroke-width="2.6"/><line x1="900" y1="527" x2="909.6" y2="523.4" stroke="#3fd03f" stroke-width="2.6"/><line x1="915.7" y1="527" x2="909.6" y2="523.4" stroke="#3fd03f" stroke-width="2.6"/><line x1="965.6" y1="523.4" x2="957" y2="527" stroke="#3fd03f" stroke-width="2.6"/><line x1="952.2" y1="547.8" x2="954.7" y2="534.4" stroke="#3fd03f" stroke-width="2.6"/>
<circle cx="913.3" cy="456.5" r="3.6" fill="url(#gbr)"/><circle cx="947.4" cy="459" r="3.6" fill="url(#gbr)"/><circle cx="926.7" cy="502.7" r="3.6" fill="url(#gbr)"/><circle cx="936.4" cy="505.2" r="3.6" fill="url(#gbr)"/><circle cx="914.5" cy="516" r="3.6" fill="url(#gbr)"/><circle cx="909.6" cy="523.4" r="3.6" fill="url(#gbr)"/><circle cx="931.5" cy="517.3" r="3.6" fill="url(#gbr)"/><circle cx="946.2" cy="532" r="3.6" fill="url(#gbr)"/><circle cx="954.7" cy="534.4" r="3.6" fill="url(#gbr)"/><circle cx="951" cy="522.2" r="3.6" fill="url(#gbr)"/><circle cx="957" cy="527" r="3.6" fill="url(#gbr)"/>
<line x1="986" y1="346" x2="1028" y2="298" stroke="#7a5436" stroke-width="3"/><line x1="982" y1="322" x2="1000" y2="340" stroke="#7a5436" stroke-width="2.4"/>
<g opacity="0.95"><ellipse cx="920" cy="400" rx="46" ry="42" fill="url(#gc)"/>
<ellipse cx="975" cy="345" rx="36" ry="30" fill="url(#gc)" transform="rotate(-30 975 345)"/>
<ellipse cx="930" cy="478" rx="22" ry="30" fill="url(#gc)"/>
<ellipse cx="954.6" cy="341.2" rx="20" ry="15" fill="url(#gc)"/>
<ellipse cx="976.7" cy="326.4" rx="18" ry="7" fill="url(#gc)"/>
<ellipse cx="987" cy="305.7" rx="10" ry="12" fill="url(#gc)"/>
<ellipse cx="997.4" cy="305.7" rx="9" ry="16" fill="url(#gy)"/>
<ellipse cx="1010.7" cy="307" rx="7" ry="12" fill="url(#gc)"/>
<ellipse cx="1028.5" cy="314.5" rx="7" ry="10" fill="url(#gy)"/>
<ellipse cx="1016.6" cy="322" rx="9" ry="6" fill="url(#gc)"/>
<ellipse cx="990" cy="329.3" rx="9" ry="7" fill="url(#gy)"/>
<ellipse cx="874.8" cy="356" rx="13" ry="16" fill="url(#gc)"/>
<ellipse cx="895.5" cy="363.3" rx="22" ry="19" fill="url(#gy)"/>
<ellipse cx="876.3" cy="403.2" rx="10" ry="18" fill="url(#gy)"/>
<ellipse cx="969.4" cy="354.5" rx="26" ry="19" fill="url(#gy)"/>
<ellipse cx="996" cy="351.5" rx="13" ry="9" fill="url(#gc)"/>
<ellipse cx="956" cy="425.4" rx="10" ry="12" fill="url(#gy)"/>
<ellipse cx="957.5" cy="440" rx="9" ry="12" fill="url(#gy)"/>
<ellipse cx="894" cy="406.2" rx="19" ry="18" fill="url(#gc)"/>
<ellipse cx="922" cy="370.7" rx="19" ry="15" fill="url(#gc)"/>
<ellipse cx="948.7" cy="376.6" rx="15" ry="15" fill="url(#gc)"/>
<ellipse cx="966.4" cy="400.3" rx="21" ry="16" fill="url(#gc)"/>
<ellipse cx="923.5" cy="437.2" rx="30" ry="13" fill="url(#gc)"/>
<ellipse cx="931" cy="407.7" rx="16" ry="16" fill="url(#gy)"/>
<ellipse cx="947.4" cy="482.2" rx="12" ry="24" fill="url(#gc)"/>
<ellipse cx="930.4" cy="472.4" rx="22" ry="17" fill="url(#gy)"/>
<ellipse cx="918.2" cy="492" rx="14" ry="12" fill="url(#gy)"/></g>
<circle cx="988.8" cy="343.3" r="3.4" fill="url(#gbr)"/><circle cx="996" cy="336" r="3.4" fill="url(#gbr)"/><circle cx="1004.6" cy="328" r="3.4" fill="url(#gbr)"/><circle cx="1011" cy="320" r="3.4" fill="url(#gbr)"/><circle cx="1018" cy="312" r="3.4" fill="url(#gbr)"/><circle cx="1025.3" cy="303" r="3.4" fill="url(#gbr)"/><circle cx="987.5" cy="316.5" r="3.4" fill="url(#gbr)"/><circle cx="1004.6" cy="332.3" r="3.4" fill="url(#gbr)"/>
<circle cx="893.8" cy="468.7" r="5.6" fill="url(#gcl)"/><circle cx="968" cy="471" r="5.6" fill="url(#gcl)"/><circle cx="907.2" cy="487" r="5.6" fill="url(#gcl)"/><circle cx="900" cy="527" r="5.6" fill="url(#gcl)"/><circle cx="915.7" cy="527" r="5.6" fill="url(#gcl)"/><circle cx="965.6" cy="523.4" r="5.6" fill="url(#gcl)"/><circle cx="952.2" cy="547.8" r="5.6" fill="url(#gcl)"/>
<line x1="1072.6" y1="365" x2="1055.6" y2="373.5" stroke="#7a5436" stroke-width="2.6"/>
<line x1="1055.6" y1="373.5" x2="1051.9" y2="391.8" stroke="#7a5436" stroke-width="2.6"/>
<line x1="1051.9" y1="391.8" x2="1062.9" y2="405.2" stroke="#7a5436" stroke-width="2.6"/>
<line x1="1062.9" y1="405.2" x2="1081.1" y2="399.1" stroke="#7a5436" stroke-width="2.6"/>
<line x1="1081.1" y1="399.1" x2="1085.5" y2="379.1" stroke="#7a5436" stroke-width="2.6"/>
<line x1="1085.5" y1="379.1" x2="1072.6" y2="365" stroke="#7a5436" stroke-width="2.6"/>
<line x1="1085.5" y1="379.1" x2="1104.3" y2="376.7" stroke="#7a5436" stroke-width="2.6"/>
<line x1="1104.3" y1="376.7" x2="1108.4" y2="393.5" stroke="#7a5436" stroke-width="2.6"/>
<line x1="1108.4" y1="393.5" x2="1095.8" y2="407.6" stroke="#7a5436" stroke-width="2.6"/>
<line x1="1095.8" y1="407.6" x2="1081.1" y2="399.1" stroke="#7a5436" stroke-width="2.6"/>
<line x1="1104.3" y1="376.7" x2="1114" y2="361.4" stroke="#7a5436" stroke-width="2.6"/>
<line x1="1114" y1="361.4" x2="1133.5" y2="363.8" stroke="#7a5436" stroke-width="2.6"/>
<line x1="1133.5" y1="363.8" x2="1134.7" y2="383.3" stroke="#7a5436" stroke-width="2.6"/>
<line x1="1134.7" y1="383.3" x2="1127.4" y2="399.1" stroke="#7a5436" stroke-width="2.6"/>
<line x1="1127.4" y1="399.1" x2="1108.4" y2="393.5" stroke="#7a5436" stroke-width="2.6"/>
<line x1="1095.8" y1="407.6" x2="1097" y2="427.1" stroke="#7a5436" stroke-width="2.6"/>
<line x1="1097" y1="427.1" x2="1082.4" y2="435.7" stroke="#7a5436" stroke-width="2.6"/>
<line x1="1082.4" y1="435.7" x2="1082.4" y2="455.9" stroke="#7a5436" stroke-width="2.6"/>
<line x1="1082.4" y1="455.9" x2="1098.2" y2="467.3" stroke="#7a5436" stroke-width="2.6"/>
<line x1="1098.2" y1="467.3" x2="1114" y2="455.9" stroke="#7a5436" stroke-width="2.6"/>
<line x1="1114" y1="455.9" x2="1112.8" y2="436.9" stroke="#7a5436" stroke-width="2.6"/>
<line x1="1112.8" y1="436.9" x2="1097" y2="427.1" stroke="#7a5436" stroke-width="2.6"/>
<line x1="1098.2" y1="467.3" x2="1100.6" y2="488" stroke="#7a5436" stroke-width="2.6"/>
<line x1="1100.6" y1="488" x2="1094.5" y2="500.2" stroke="#7a5436" stroke-width="2.6"/>
<line x1="1100.6" y1="488" x2="1104.3" y2="501.4" stroke="#7a5436" stroke-width="2.6"/>
<line x1="1094.5" y1="500.2" x2="1082.4" y2="511.2" stroke="#7a5436" stroke-width="2.6"/>
<line x1="1082.4" y1="511.2" x2="1078.7" y2="520.9" stroke="#7a5436" stroke-width="2.6"/>
<line x1="1104.3" y1="501.4" x2="1099.4" y2="511.2" stroke="#7a5436" stroke-width="2.6"/>
<line x1="1099.4" y1="511.2" x2="1118.9" y2="516" stroke="#7a5436" stroke-width="2.6"/>
<line x1="1118.9" y1="516" x2="1122.5" y2="528.2" stroke="#7a5436" stroke-width="2.6"/>
<line x1="1122.5" y1="528.2" x2="1112.8" y2="524.5" stroke="#7a5436" stroke-width="2.6"/>
<line x1="1112.8" y1="524.5" x2="1099.4" y2="511.2" stroke="#7a5436" stroke-width="2.6"/>
<line x1="1094.5" y1="500.2" x2="1099.4" y2="511.2" stroke="#7a5436" stroke-width="2.6"/>
<line x1="1082.4" y1="455.9" x2="1065.3" y2="467.3" stroke="#3fd03f" stroke-width="2.6"/>
<line x1="1114" y1="455.9" x2="1133.5" y2="468.5" stroke="#3fd03f" stroke-width="2.6"/>
<line x1="1094.5" y1="500.2" x2="1076.3" y2="483.1" stroke="#3fd03f" stroke-width="2.6"/>
<line x1="1104.3" y1="501.4" x2="1121.3" y2="471" stroke="#3fd03f" stroke-width="2.6"/>
<line x1="1078.7" y1="520.9" x2="1070.2" y2="520.9" stroke="#3fd03f" stroke-width="2.6"/>
<line x1="1082.4" y1="511.2" x2="1083.6" y2="520.9" stroke="#3fd03f" stroke-width="2.6"/>
<line x1="1118.9" y1="516" x2="1131" y2="517.2" stroke="#3fd03f" stroke-width="2.6"/>
<line x1="1122.5" y1="528.2" x2="1117.7" y2="540.4" stroke="#3fd03f" stroke-width="2.6"/>
<line x1="1072.6" y1="365" x2="1075" y2="351.6" stroke="#b89080" stroke-width="1.6"/>
<circle cx="1075" cy="351.6" r="2.2" fill="#f2d6d6" stroke="#c8a0a0" stroke-width="0.6"/>
<line x1="1055.6" y1="373.5" x2="1045.8" y2="362.6" stroke="#b89080" stroke-width="1.6"/>
<circle cx="1045.8" cy="362.6" r="2.2" fill="#f2d6d6" stroke="#c8a0a0" stroke-width="0.6"/>
<line x1="1051.9" y1="391.8" x2="1038.5" y2="396.7" stroke="#b89080" stroke-width="1.6"/>
<circle cx="1038.5" cy="396.7" r="2.2" fill="#f2d6d6" stroke="#c8a0a0" stroke-width="0.6"/>
<line x1="1062.9" y1="405.2" x2="1060.4" y2="419.8" stroke="#b89080" stroke-width="1.6"/>
<circle cx="1060.4" cy="419.8" r="2.2" fill="#f2d6d6" stroke="#c8a0a0" stroke-width="0.6"/>
<line x1="1082.4" y1="435.7" x2="1070.2" y2="429" stroke="#b89080" stroke-width="1.6"/>
<circle cx="1070.2" cy="429" r="2.2" fill="#f2d6d6" stroke="#c8a0a0" stroke-width="0.6"/>
<line x1="1112.8" y1="436.9" x2="1123.8" y2="430.8" stroke="#b89080" stroke-width="1.6"/>
<circle cx="1123.8" cy="430.8" r="2.2" fill="#f2d6d6" stroke="#c8a0a0" stroke-width="0.6"/>
<line x1="1127.4" y1="399.1" x2="1132.3" y2="412.5" stroke="#b89080" stroke-width="1.6"/>
<circle cx="1132.3" cy="412.5" r="2.2" fill="#f2d6d6" stroke="#c8a0a0" stroke-width="0.6"/>
<line x1="1134.7" y1="383.3" x2="1153" y2="384.5" stroke="#b89080" stroke-width="1.6"/>
<circle cx="1153" cy="384.5" r="2.2" fill="#f2d6d6" stroke="#c8a0a0" stroke-width="0.6"/>
<line x1="1078.7" y1="520.9" x2="1067.7" y2="529.4" stroke="#b89080" stroke-width="1.6"/>
<circle cx="1067.7" cy="529.4" r="2.2" fill="#f2d6d6" stroke="#c8a0a0" stroke-width="0.6"/>
<line x1="1122.5" y1="528.2" x2="1133.5" y2="538" stroke="#b89080" stroke-width="1.6"/>
<circle cx="1133.5" cy="538" r="2.2" fill="#f2d6d6" stroke="#c8a0a0" stroke-width="0.6"/>
<circle cx="1072.6" cy="365" r="4.0" fill="url(#gbr)"/>
<circle cx="1055.6" cy="373.5" r="4.0" fill="url(#gbr)"/>
<circle cx="1051.9" cy="391.8" r="4.0" fill="url(#gbr)"/>
<circle cx="1062.9" cy="405.2" r="4.0" fill="url(#gbr)"/>
<circle cx="1081.1" cy="399.1" r="4.0" fill="url(#gbr)"/>
<circle cx="1085.5" cy="379.1" r="4.0" fill="url(#gbr)"/>
<circle cx="1104.3" cy="376.7" r="4.0" fill="url(#gbr)"/>
<circle cx="1108.4" cy="393.5" r="4.0" fill="url(#gbr)"/>
<circle cx="1095.8" cy="407.6" r="3.6" fill="#b8c8e0"/>
<circle cx="1127.4" cy="399.1" r="4.0" fill="url(#gbr)"/>
<circle cx="1134.7" cy="383.3" r="4.0" fill="url(#gbr)"/>
<circle cx="1133.5" cy="363.8" r="4.0" fill="url(#gbr)"/>
<circle cx="1114" cy="361.4" r="4.0" fill="url(#gbr)"/>
<circle cx="1097" cy="427.1" r="4.0" fill="url(#gbr)"/>
<circle cx="1082.4" cy="435.7" r="4.0" fill="url(#gbr)"/>
<circle cx="1082.4" cy="455.9" r="4.0" fill="url(#gbr)"/>
<circle cx="1098.2" cy="467.3" r="4.0" fill="url(#gbr)"/>
<circle cx="1114" cy="455.9" r="4.0" fill="url(#gbr)"/>
<circle cx="1112.8" cy="436.9" r="4.0" fill="url(#gbr)"/>
<circle cx="1100.6" cy="488" r="4.0" fill="url(#gbr)"/>
<circle cx="1094.5" cy="500.2" r="4.0" fill="url(#gbr)"/>
<circle cx="1104.3" cy="501.4" r="4.0" fill="url(#gbr)"/>
<circle cx="1082.4" cy="511.2" r="4.0" fill="url(#gbr)"/>
<circle cx="1078.7" cy="520.9" r="4.0" fill="url(#gbr)"/>
<circle cx="1099.4" cy="511.2" r="4.0" fill="url(#gbr)"/>
<circle cx="1118.9" cy="516" r="4.0" fill="url(#gbr)"/>
<circle cx="1122.5" cy="528.2" r="4.0" fill="url(#gbr)"/>
<circle cx="1112.8" cy="524.5" r="4.0" fill="url(#gbr)"/>
<circle cx="1065.3" cy="467.3" r="5.6" fill="url(#gcl)"/>
<circle cx="1133.5" cy="468.5" r="5.6" fill="url(#gcl)"/>
<circle cx="1076.3" cy="483.1" r="5.6" fill="url(#gcl)"/>
<circle cx="1121.3" cy="471" r="5.6" fill="url(#gcl)"/>
<circle cx="1070.2" cy="520.9" r="5.6" fill="url(#gcl)"/>
<circle cx="1083.6" cy="520.9" r="5.6" fill="url(#gcl)"/>
<circle cx="1131" cy="517.2" r="5.6" fill="url(#gcl)"/>
<circle cx="1117.7" cy="540.4" r="5.6" fill="url(#gcl)"/>
<g opacity="0.95"><ellipse cx="1162" cy="322" rx="46" ry="36" fill="url(#gc)" transform="rotate(-35 1162 322)"/>
<ellipse cx="1135" cy="352" rx="22" ry="20" fill="url(#gy)"/>
<ellipse cx="1161.7" cy="287.4" rx="12" ry="5" fill="url(#gy)"/>
<ellipse cx="1139.8" cy="305.7" rx="8.5" ry="16" fill="url(#gc)"/>
<ellipse cx="1152" cy="302" rx="12" ry="17" fill="url(#gy)"/>
<ellipse cx="1172.6" cy="304.5" rx="16" ry="18" fill="url(#gc)"/>
<ellipse cx="1194.6" cy="321.5" rx="16" ry="18" fill="url(#gy)"/>
<ellipse cx="1183.6" cy="333.7" rx="6" ry="10" fill="url(#gc)"/>
<ellipse cx="1115.5" cy="333.7" rx="8.5" ry="14.6" fill="url(#gy)"/>
<ellipse cx="1127.6" cy="333.7" rx="10" ry="16" fill="url(#gc)"/>
<ellipse cx="1117.9" cy="358" rx="10" ry="12" fill="url(#gy)"/>
<ellipse cx="1169" cy="353.2" rx="18" ry="20.7" fill="url(#gc)"/>
<ellipse cx="1149.5" cy="336" rx="17" ry="18" fill="url(#gy)"/>
<ellipse cx="1139.8" cy="370.2" rx="10" ry="18" fill="url(#gc)"/>
<ellipse cx="1110.6" cy="362.9" rx="8" ry="5" fill="url(#gc)"/>
<ellipse cx="1098.4" cy="370.2" rx="7" ry="5" fill="url(#gc)"/>
<ellipse cx="1115.5" cy="388.4" rx="24" ry="11" fill="url(#gy)" transform="rotate(25 1115.5 388.4)"/>
<ellipse cx="1085" cy="406.7" rx="5" ry="10" fill="url(#gy)"/>
<ellipse cx="1094.8" cy="406.7" rx="11" ry="11" fill="url(#gc)"/>
<ellipse cx="1059.5" cy="365.3" rx="10" ry="5" fill="url(#gy)"/>
<ellipse cx="1064.3" cy="367.8" rx="12" ry="6" fill="url(#gc)"/>
<ellipse cx="1055.8" cy="404.3" rx="5" ry="7" fill="url(#gc)"/>
<ellipse cx="1065.6" cy="404.3" rx="7" ry="6" fill="url(#gy)"/>
<ellipse cx="1097" cy="432" rx="6" ry="5" fill="url(#gc)"/>
<ellipse cx="1105" cy="435" rx="6" ry="6" fill="url(#gy)"/>
<ellipse cx="1096" cy="470" rx="6" ry="8" fill="url(#gc)"/>
<ellipse cx="1106" cy="478" rx="5" ry="15" fill="url(#gy)"/>
<ellipse cx="1092" cy="488" rx="5" ry="5" fill="url(#gc)"/></g>
<text x="1246" y="29" font-size="34" fill="#000" text-anchor="start" font-weight="bold" stroke="#000" stroke-width="0.7">c</text>
<text x="1255.25" y="141" font-size="28" fill="#000" textLength="162.77" lengthAdjust="spacingAndGlyphs"  stroke="#000" stroke-width="0.35">Initialization:</text>
<text x="1459" y="141" font-size="28" fill="#000" textLength="143.69" lengthAdjust="spacingAndGlyphs"  stroke="#000" stroke-width="0.35">Absorption</text>
<text x="1654.63" y="108.3" font-size="28" fill="#000" textLength="91.39" lengthAdjust="spacingAndGlyphs"  stroke="#000" stroke-width="0.35">Energy</text>
<text x="1651.58" y="142.6" font-size="28" fill="#000" textLength="99.87" lengthAdjust="spacingAndGlyphs"  stroke="#000" stroke-width="0.35">transfer</text>
<text x="1847.22" y="142.6" font-size="28" fill="#000" textLength="49.93" lengthAdjust="spacingAndGlyphs"  stroke="#000" stroke-width="0.35">ISC</text>
<text x="1668.74" y="187" font-size="28" fill="#000" textLength="56.86" lengthAdjust="spacingAndGlyphs"  stroke="#000" stroke-width="0.35">1 ps</text>
<text x="1824.51" y="188.3" font-size="28" fill="#000" textLength="90.41" lengthAdjust="spacingAndGlyphs"  stroke="#000" stroke-width="0.35">&lt;20 ns</text>
<rect x="1383.5" y="202.5" width="466.5" height="212" fill="#f1f1f3" stroke="#7c7c7c" stroke-width="2.4"/>
<rect x="1885" y="204.5" width="168" height="210" fill="#d0cfd1" stroke="#7c7c7c" stroke-width="2.4"/>
<text x="1419.5" y="254.5" font-size="28" fill="#000"  stroke="#000" stroke-width="0.35"><tspan font-size="20" dy="-9.5">2</tspan><tspan dy="9.5">[D</tspan><tspan font-size="20" dy="10">0</tspan><tspan dy="-10">S</tspan><tspan font-size="20" dy="10">0</tspan><tspan dy="-10">]</tspan></text>
<text x="1572" y="255" font-size="28" fill="#000"  stroke="#000" stroke-width="0.35"><tspan font-size="20" dy="-9.5">2</tspan><tspan dy="9.5">[D</tspan><tspan font-size="20" dy="10">1</tspan><tspan dy="-10">S</tspan><tspan font-size="20" dy="10">0</tspan><tspan dy="-10">]</tspan></text>
<text x="1725.5" y="255" font-size="28" fill="#000"  stroke="#000" stroke-width="0.35"><tspan font-size="20" dy="-9.5">2</tspan><tspan dy="9.5">[D</tspan><tspan font-size="20" dy="10">0</tspan><tspan dy="-10">T</tspan><tspan font-size="20" dy="10">1</tspan><tspan dy="-10">]</tspan></text>
<text x="1926.3" y="254.6" font-size="28" fill="#000"  stroke="#000" stroke-width="0.35"><tspan font-size="20" dy="-9.5">4</tspan><tspan dy="9.5">[D</tspan><tspan font-size="20" dy="10">0</tspan><tspan dy="-10">T</tspan><tspan font-size="20" dy="10">1</tspan><tspan dy="-10">]</tspan></text>
<rect x="1247.8" y="276.4" width="116.7" height="118.6" fill="#fff" stroke="#000" stroke-width="2.8"/>
<line x1="1307.6" y1="275" x2="1307.6" y2="396.4" stroke="#000" stroke-width="2.8" />
<line x1="1246.4" y1="335.5" x2="1365.9" y2="335.5" stroke="#000" stroke-width="2.8" />
<text x="1258.8" y="314" font-size="30" fill="#cc0000" stroke="#cc0000" stroke-width="0.35">S<tspan font-size="21" dy="10">R</tspan></text>
<text x="1319.5" y="314" font-size="30" fill="#0033ee" stroke="#0033ee" stroke-width="0.35">L<tspan font-size="21" dy="10">A</tspan></text>
<text x="1257.6" y="371.6" font-size="30" fill="#cc0000" stroke="#cc0000" stroke-width="0.35">H<tspan font-size="21" dy="10">R</tspan></text>
<text x="1317" y="371.6" font-size="30" fill="#0033ee" stroke="#0033ee" stroke-width="0.35">H<tspan font-size="21" dy="10">A</tspan></text>
<rect x="1407.55" y="273.55" width="118.5" height="117.2" fill="#fff" stroke="#000" stroke-width="3.5"/>
<line x1="1466.7" y1="271.8" x2="1466.7" y2="392.5" stroke="#000" stroke-width="3.5" />
<line x1="1405.8" y1="331.4" x2="1527.8" y2="331.4" stroke="#000" stroke-width="3.5" />
<polygon points="1429.35,326 1429.35,297.4 1435.7,297.4 1427.2,280.4 1418.7,297.4 1425.05,297.4 1425.05,326" fill="#c00000"/>
<polygon points="1429.35,384 1429.35,355.3 1435.7,355.3 1427.2,338.3 1418.7,355.3 1425.05,355.3 1425.05,384" fill="#c00000"/>
<polygon points="1445.85,338.3 1445.85,367 1439.5,367 1448,384 1456.5,367 1450.15,367 1450.15,338.3" fill="#c00000"/>
<polygon points="1488.35,384 1488.35,355.3 1494.7,355.3 1486.2,338.3 1477.7,355.3 1484.05,355.3 1484.05,384" fill="#0a28c8"/>
<polygon points="1504.85,338.3 1504.85,367 1498.5,367 1507,384 1515.5,367 1509.15,367 1509.15,338.3" fill="#0a28c8"/>
<rect x="1559.15" y="273.55" width="118.7" height="117.2" fill="#fff" stroke="#000" stroke-width="3.5"/>
<line x1="1618.5" y1="271.8" x2="1618.5" y2="392.5" stroke="#000" stroke-width="3.5" />
<line x1="1557.4" y1="331.4" x2="1679.6" y2="331.4" stroke="#000" stroke-width="3.5" />
<polygon points="1581.45,326 1581.45,297.4 1587.8,297.4 1579.3,280.4 1570.8,297.4 1577.15,297.4 1577.15,326" fill="#c00000"/>
<polygon points="1597.75,280.4 1597.75,309 1591.4,309 1599.9,326 1608.4,309 1602.05,309 1602.05,280.4" fill="#c00000"/>
<polygon points="1581.45,384 1581.45,355.3 1587.8,355.3 1579.3,338.3 1570.8,355.3 1577.15,355.3 1577.15,384" fill="#c00000"/>
<polygon points="1639.95,384 1639.95,355.3 1646.3,355.3 1637.8,338.3 1629.3,355.3 1635.65,355.3 1635.65,384" fill="#0a28c8"/>
<polygon points="1656.45,338.3 1656.45,367 1650.1,367 1658.6,384 1667.1,367 1660.75,367 1660.75,338.3" fill="#0a28c8"/>
<rect x="1709.75" y="273.45" width="118.9" height="117.4" fill="#fff" stroke="#000" stroke-width="3.5"/>
<line x1="1769" y1="271.7" x2="1769" y2="392.6" stroke="#000" stroke-width="3.5" />
<line x1="1708" y1="331.4" x2="1830.4" y2="331.4" stroke="#000" stroke-width="3.5" />
<polygon points="1748.75,281.8 1748.75,311.3 1742.4,311.3 1750.9,328.3 1759.4,311.3 1753.05,311.3 1753.05,281.8" fill="#c00000"/>
<polygon points="1790.75,324.7 1790.75,295.7 1797.1,295.7 1788.6,278.7 1780.1,295.7 1786.45,295.7 1786.45,324.7" fill="#0a28c8"/>
<polygon points="1731.85,384 1731.85,355.3 1738.2,355.3 1729.7,338.3 1721.2,355.3 1727.55,355.3 1727.55,384" fill="#c00000"/>
<polygon points="1748.75,338.3 1748.75,367 1742.4,367 1750.9,384 1759.4,367 1753.05,367 1753.05,338.3" fill="#c00000"/>
<polygon points="1790.75,384 1790.75,355.3 1797.1,355.3 1788.6,338.3 1780.1,355.3 1786.45,355.3 1786.45,384" fill="#0a28c8"/>
<rect x="1910.25" y="272.75" width="118.5" height="117" fill="#fff" stroke="#000" stroke-width="3.5"/>
<line x1="1969" y1="271" x2="1969" y2="391.5" stroke="#000" stroke-width="3.5" />
<line x1="1908.5" y1="330.5" x2="2030.5" y2="330.5" stroke="#000" stroke-width="3.5" />
<polygon points="1931.85,326 1931.85,297.4 1938.2,297.4 1929.7,280.4 1921.2,297.4 1927.55,297.4 1927.55,326" fill="#c00000"/>
<polygon points="1990.45,325 1990.45,296.4 1996.8,296.4 1988.3,279.4 1979.8,296.4 1986.15,296.4 1986.15,325" fill="#0a28c8"/>
<polygon points="1931.85,384 1931.85,355.3 1938.2,355.3 1929.7,338.3 1921.2,355.3 1927.55,355.3 1927.55,384" fill="#c00000"/>
<polygon points="1948.35,338.3 1948.35,367 1942,367 1950.5,384 1959,367 1952.65,367 1952.65,338.3" fill="#c00000"/>
<polygon points="1990.45,384 1990.45,355.3 1996.8,355.3 1988.3,338.3 1979.8,355.3 1986.15,355.3 1986.15,384" fill="#0a28c8"/>
<path d="M1489.9,198 L1489.9,173.8 A17,17 0 0 1 1506.9,156.8 L1567.2,156.8 A17,17 0 0 1 1584.2,173.8 L1584.2,178" fill="none" stroke="#d95f02" stroke-width="5.6"/>
<polygon points="1576.95,176 1584.2,188 1591.45,176" fill="#d95f02"/>
<path d="M1633,196.5 L1633,172.5 A17,17 0 0 1 1650,155.5 L1739.7,155.5 A17,17 0 0 1 1756.7,172.5 L1756.7,176.5" fill="none" stroke="#e7298a" stroke-width="5.6"/>
<polygon points="1749.45,174.5 1756.7,186.5 1763.95,174.5" fill="#e7298a"/>
<path d="M1795.2,198 L1795.2,174.5 A17,17 0 0 1 1812.2,157.5 L1936.3,157.5 A17,17 0 0 1 1953.3,174.5 L1953.3,178.1" fill="none" stroke="#1b9e77" stroke-width="5.6"/>
<polygon points="1946.05,176.1 1953.3,188.1 1960.55,176.1" fill="#1b9e77"/>
<path d="M1588,417 L1588,444.5 A17,17 0 0 1 1571,461.5 L1500.3,461.5 A17,17 0 0 1 1483.3,444.5 L1483.3,438.8" fill="none" stroke="#c00000" stroke-width="5.6"/>
<polygon points="1490.8,440.8 1483.3,428.8 1475.8,440.8" fill="#c00000"/>
<path d="M1760.9,417 L1760.9,444.5 A17,17 0 0 1 1743.9,461.5 L1652,461.5 A17,17 0 0 1 1635,444.5 L1635,438.8" fill="none" stroke="#7570b3" stroke-width="5.6"/>
<polygon points="1642.5,440.8 1635,428.8 1627.5,440.8" fill="#7570b3"/>
<path d="M1936.3,417 L1936.3,444.5 A17,17 0 0 1 1919.3,461.5 L1843,461.5 A17,17 0 0 1 1826,444.5 L1826,438.8" fill="none" stroke="#7570b3" stroke-width="5.6"/>
<polygon points="1833.5,440.8 1826,428.8 1818.5,440.8" fill="#7570b3"/>
<text x="1296.02" y="493.3" font-size="28" fill="#000" textLength="122.73" lengthAdjust="spacingAndGlyphs"  stroke="#000" stroke-width="0.35">Readout:</text>
<text x="1512.52" y="497.3" font-size="28" fill="#000" textLength="36.89" lengthAdjust="spacingAndGlyphs"  stroke="#000" stroke-width="0.35">PL</text>
<text x="1661.23" y="494" font-size="28" fill="#000" textLength="66.82" lengthAdjust="spacingAndGlyphs"  stroke="#000" stroke-width="0.35">Back</text>
<text x="1645.58" y="529" font-size="28" fill="#000" textLength="99.87" lengthAdjust="spacingAndGlyphs"  stroke="#000" stroke-width="0.35">transfer</text>
<text x="1848.33" y="497.3" font-size="28" fill="#000" textLength="68.79" lengthAdjust="spacingAndGlyphs"  stroke="#000" stroke-width="0.35">RISC</text>
<path d="M2053.8,282.3 L2080,282.3 Q2096,282.3 2096,298 L2096,354 Q2096,370.3 2080,370.3 L2076,370.3" fill="none" stroke="#4a4a4a" stroke-width="6"/>
<polygon points="2078.4,362.3 2064.4,370.3 2078.4,378.3" fill="#4a4a4a"/>
<text x="2138.5" y="409.44" font-size="28" fill="#000" textLength="168.72" lengthAdjust="spacingAndGlyphs" transform="rotate(-90 2138.5 409.44)" stroke="#000" stroke-width="0.35">Manipulation</text>
<text x="0" y="643" font-size="34" fill="#000" text-anchor="start" font-weight="bold" stroke="#000" stroke-width="0.7">d</text>
<line x1="276.9" y1="739.8" x2="320.7" y2="723.1" stroke="#7a9edb" stroke-width="1.8" stroke-dasharray="2 2.6"/>
<line x1="276.9" y1="739.8" x2="276.9" y2="944.3" stroke="#7a9edb" stroke-width="1.8" stroke-dasharray="2 2.6"/>
<line x1="276.9" y1="944.3" x2="395.8" y2="894.2" stroke="#7a9edb" stroke-width="1.8" stroke-dasharray="2 2.6"/>
<line x1="276.9" y1="944.3" x2="201.7" y2="911" stroke="#7a9edb" stroke-width="1.8" stroke-dasharray="2 2.6"/>
<line x1="178.8" y1="880.7" x2="178.8" y2="911" stroke="#7a9edb" stroke-width="1.8" stroke-dasharray="2 2.6"/>
<line x1="178.8" y1="880.7" x2="320.7" y2="823.3" stroke="#7a9edb" stroke-width="1.8" stroke-dasharray="2 2.6"/>
<line x1="321.7" y1="861.9" x2="322.25" y2="704.9" stroke="#000" stroke-width="5.6" stroke-linecap="round"/>
<polygon points="330.73,709.93 322.3,690.9 313.73,709.87" fill="#000"/>
<line x1="321.7" y1="861.9" x2="322.26" y2="1047.5" stroke="#000" stroke-width="5.6" stroke-linecap="round"/>
<polygon points="313.74,1042.53 322.3,1061.5 330.74,1042.47" fill="#000"/>
<line x1="321.7" y1="861.9" x2="175.12" y2="916.51" stroke="#000" stroke-width="5.6" stroke-linecap="round"/>
<polygon points="176.84,906.8 162,921.4 182.77,922.73" fill="#000"/>
<line x1="321.7" y1="861.9" x2="458.04" y2="917.51" stroke="#000" stroke-width="5.6" stroke-linecap="round"/>
<polygon points="450.2,923.49 471,922.8 456.62,907.75" fill="#000"/>
<polygon points="324.45,860.51 288.29,762.99 295.32,760.38 275.5,740 273.76,768.38 280.79,765.77 316.95,863.29" fill="#4472c4"/>
<polygon points="321.18,856.93 200.99,872.54 200.02,865.11 177.7,879.6 202.98,887.91 202.02,880.48 322.22,864.87" fill="#4472c4"/>
<polygon points="318.74,859.21 293.18,887.35 287.63,882.3 280,907.8 304.65,897.77 299.1,892.73 324.66,864.59" fill="#4472c4"/>
<polygon points="318.15,861.9 318.15,985.3 310.9,985.3 322.4,1011.3 333.9,985.3 326.65,985.3 326.65,861.9" fill="#4472c4"/>
<path d="M259,757 C212,768 186,808 216,850" fill="none" stroke="#c00000" stroke-width="2.4"/>
<polygon points="253.22,763.99 264.5,755.5 250.55,753.32" fill="#c00000"/>
<polygon points="208.91,846.25 218.4,856.7 219.3,842.61" fill="#c00000"/>
<path d="M227,884 C240,903 258,911 276,910.5" fill="none" stroke="#c00000" stroke-width="2.4"/>
<polygon points="235.05,888.2 224.7,878.6 225.02,892.71" fill="#c00000"/>
<polygon points="268.84,915.14 282.1,910.3 269.39,904.16" fill="#c00000"/>
<path d="M309,889.5 C350,895 362,928 337,939" fill="none" stroke="#c00000" stroke-width="2.4"/>
<polygon points="317.26,884.16 304,889 316.71,895.14" fill="#c00000"/>
<polygon points="340.52,930.8 332.2,942.2 346.18,940.23" fill="#c00000"/>
<text x="274.5" y="676.4" font-size="28" fill="#000"  stroke="#000" stroke-width="0.35"><tspan font-size="20" dy="-9.5">2</tspan><tspan dy="9.5">[D</tspan><tspan font-size="20" dy="10">1</tspan><tspan dy="-10">S</tspan><tspan font-size="20" dy="10">0</tspan><tspan dy="-10">]</tspan></text>
<text x="64" y="950.3" font-size="28" fill="#000"  stroke="#000" stroke-width="0.35"><tspan font-size="20" dy="-9.5">2</tspan><tspan dy="9.5">[D</tspan><tspan font-size="20" dy="10">0</tspan><tspan dy="-10">T</tspan><tspan font-size="20" dy="10">1</tspan><tspan dy="-10">]</tspan></text>
<text x="471.2" y="953.7" font-size="28" fill="#000" stroke="#000" stroke-width="0.35"><tspan font-size="20" dy="-9.5">2</tspan><tspan dy="9.5">CT</tspan></text>
<text x="275.5" y="1106.6" font-size="28" fill="#000"  stroke="#000" stroke-width="0.35"><tspan font-size="20" dy="-9.5">4</tspan><tspan dy="9.5">[D</tspan><tspan font-size="20" dy="10">0</tspan><tspan dy="-10">T</tspan><tspan font-size="20" dy="10">1</tspan><tspan dy="-10">]</tspan></text>
<text x="122.42" y="687.1" font-size="28" fill="#4472c4" textLength="114.04" lengthAdjust="spacingAndGlyphs"  stroke="#4472c4" stroke-width="0.35">Optically</text>
<text x="122.52" y="721.8" font-size="28" fill="#4472c4" textLength="139.08" lengthAdjust="spacingAndGlyphs"  stroke="#4472c4" stroke-width="0.35">accessible</text>
<text x="122.94" y="757" font-size="28" fill="#4472c4" textLength="65.15" lengthAdjust="spacingAndGlyphs"  stroke="#4472c4" stroke-width="0.35">state</text>
<text x="343.8" y="976.5" font-size="28" fill="#4472c4" textLength="60.38" lengthAdjust="spacingAndGlyphs"  stroke="#4472c4" stroke-width="0.35">Spin</text>
<text x="343.92" y="1011.2" font-size="28" fill="#4472c4" textLength="78.31" lengthAdjust="spacingAndGlyphs"  stroke="#4472c4" stroke-width="0.35">active</text>
<text x="344.35" y="1046.2" font-size="28" fill="#4472c4" textLength="64.84" lengthAdjust="spacingAndGlyphs"  stroke="#4472c4" stroke-width="0.35">state</text>
<text x="611" y="643.5" font-size="34" fill="#000" text-anchor="start" font-weight="bold" stroke="#000" stroke-width="0.7">e</text>
<text x="748" y="661.7" font-size="28" fill="#000" stroke="#000" stroke-width="0.35">Δ<tspan font-style="italic">m</tspan><tspan font-size="20" dy="8">s</tspan><tspan dy="-8"> = 3</tspan></text>
<text x="927" y="661.7" font-size="28" fill="#000" stroke="#000" stroke-width="0.35">Δ<tspan font-style="italic">m</tspan><tspan font-size="20" dy="8">s</tspan><tspan dy="-8"> = 2</tspan></text>
<text x="1326" y="661.7" font-size="28" fill="#000" stroke="#000" stroke-width="0.35">Δ<tspan font-style="italic">m</tspan><tspan font-size="20" dy="8">s</tspan><tspan dy="-8"> = 1</tspan></text>
<line x1="730" y1="675.5" x2="730" y2="1054.8" stroke="#000" stroke-width="2.4" />
<line x1="728.6" y1="1053.4" x2="1150.5" y2="1053.4" stroke="#000" stroke-width="2.4" />
<line x1="1178.3" y1="1053.4" x2="1600.2" y2="1053.4" stroke="#000" stroke-width="2.4" />
<line x1="716" y1="710.7" x2="730" y2="710.7" stroke="#000" stroke-width="2.4" />
<text x="708.5" y="720.7" font-size="28" fill="#000" text-anchor="end"  stroke="#000" stroke-width="0.35">0</text>
<line x1="716" y1="810" x2="730" y2="810" stroke="#000" stroke-width="2.4" />
<text x="708.5" y="820" font-size="28" fill="#000" text-anchor="end"  stroke="#000" stroke-width="0.35">−10</text>
<line x1="716" y1="909.3" x2="730" y2="909.3" stroke="#000" stroke-width="2.4" />
<text x="708.5" y="919.3" font-size="28" fill="#000" text-anchor="end"  stroke="#000" stroke-width="0.35">−20</text>
<line x1="716" y1="1008.6" x2="730" y2="1008.6" stroke="#000" stroke-width="2.4" />
<text x="708.5" y="1018.6" font-size="28" fill="#000" text-anchor="end"  stroke="#000" stroke-width="0.35">−30</text>
<line x1="765.6" y1="1053.4" x2="765.6" y2="1067" stroke="#000" stroke-width="2.4" />
<text x="765.6" y="1099" font-size="28" fill="#000" text-anchor="middle"  stroke="#000" stroke-width="0.35">100</text>
<line x1="939.9" y1="1053.4" x2="939.9" y2="1067" stroke="#000" stroke-width="2.4" />
<text x="939.9" y="1099" font-size="28" fill="#000" text-anchor="middle"  stroke="#000" stroke-width="0.35">150</text>
<line x1="1114.7" y1="1053.4" x2="1114.7" y2="1067" stroke="#000" stroke-width="2.4" />
<text x="1114.7" y="1099" font-size="28" fill="#000" text-anchor="middle"  stroke="#000" stroke-width="0.35">200</text>
<line x1="1249.2" y1="1053.4" x2="1249.2" y2="1067" stroke="#000" stroke-width="2.4" />
<text x="1249.2" y="1099" font-size="28" fill="#000" text-anchor="middle"  stroke="#000" stroke-width="0.35">300</text>
<line x1="1424" y1="1053.4" x2="1424" y2="1067" stroke="#000" stroke-width="2.4" />
<text x="1424" y="1099" font-size="28" fill="#000" text-anchor="middle"  stroke="#000" stroke-width="0.35">350</text>
<line x1="1598.8" y1="1053.4" x2="1598.8" y2="1067" stroke="#000" stroke-width="2.4" />
<text x="1598.8" y="1099" font-size="28" fill="#000" text-anchor="middle"  stroke="#000" stroke-width="0.35">400</text>
<text x="1040.01" y="1143.4" font-size="28" fill="#000" textLength="248.67" lengthAdjust="spacingAndGlyphs"  stroke="#000" stroke-width="0.35">Magnetic field (mT)</text>
<text x="638.5" y="874" font-size="28" fill="#000" text-anchor="middle" transform="rotate(-90 638.5 874) translate(638.5 874) scale(1.031 1) translate(-638.5 -874)" stroke="#000" stroke-width="0.35">ΔPL/PL (10<tspan font-size="20" dy="-9.5">−4</tspan><tspan dy="9.5"> %)</tspan></text>
<line x1="732" y1="710.7" x2="1149" y2="710.7" stroke="#bdbdbd" stroke-width="2" />
<line x1="1180" y1="710.7" x2="1597" y2="710.7" stroke="#bdbdbd" stroke-width="2" />
<polyline points="731.0,698.7 731.4,705.6 731.8,707.0 732.2,702.3 732.6,704.3 733.0,704.5 733.4,709.2 733.8,707.7 734.2,711.1 734.6,697.4 735.0,714.9 735.4,709.3 735.8,715.3 736.2,709.6 736.6,708.9 737.0,712.1 737.4,713.5 737.8,709.9 738.2,710.2 738.6,716.3 739.0,707.8 739.4,705.5 739.8,712.4 740.2,708.8 740.6,704.3 741.0,708.3 741.4,709.5 741.8,706.9 742.2,705.9 742.6,711.4 743.0,714.5 743.4,710.5 743.8,708.6 744.2,712.7 744.6,713.9 745.0,710.3 745.4,713.3 745.8,715.1 746.2,710.7 746.6,705.0 747.0,712.7 747.4,712.4 747.8,715.4 748.2,706.9 748.6,709.1 749.0,708.5 749.4,705.3 749.8,712.0 750.2,713.5 750.6,708.9 751.0,716.6 751.4,714.6 751.8,713.9 752.2,713.1 752.6,715.1 753.0,706.9 753.4,713.9 753.8,713.9 754.2,705.4 754.6,713.0 755.0,710.9 755.4,714.6 755.8,710.2 756.2,711.8 756.6,713.1 757.0,708.7 757.4,714.0 757.8,711.5 758.2,713.7 758.6,710.1 759.0,715.9 759.4,714.2 759.8,711.4 760.2,714.3 760.6,716.6 761.0,718.5 761.4,706.4 761.8,715.3 762.2,713.8 762.6,711.8 763.0,708.5 763.4,716.7 763.8,707.6 764.2,714.2 764.6,716.9 765.0,706.4 765.4,711.1 765.8,707.5 766.2,713.1 766.6,717.7 767.0,719.6 767.4,705.9 767.8,710.2 768.2,717.9 768.6,718.0 769.0,713.9 769.4,709.7 769.8,713.5 770.2,712.4 770.6,710.8 771.0,709.8 771.4,713.9 771.8,713.6 772.2,712.2 772.6,711.8 773.0,708.0 773.4,710.9 773.8,717.0 774.2,712.0 774.6,707.6 775.0,723.4 775.4,714.7 775.8,720.5 776.2,713.1 776.6,711.3 777.0,707.8 777.4,717.8 777.8,721.7 778.2,710.2 778.6,710.9 779.0,715.4 779.4,710.4 779.8,712.4 780.2,712.2 780.6,714.3 781.0,717.6 781.4,713.8 781.8,717.1 782.2,712.4 782.6,715.2 783.0,706.5 783.4,709.1 783.8,717.3 784.2,712.5 784.6,716.9 785.0,716.9 785.4,719.9 785.8,718.3 786.2,719.3 786.6,715.6 787.0,713.8 787.4,714.1 787.8,715.5 788.2,713.9 788.6,716.8 789.0,719.4 789.4,721.9 789.8,721.3 790.2,717.5 790.6,726.9 791.0,729.8 791.4,733.4 791.8,737.7 792.2,742.8 792.6,748.8 793.0,755.7 793.4,763.4 793.8,772.1 794.2,781.6 794.6,791.9 795.0,802.8 795.4,814.0 795.8,824.9 796.2,834.8 796.6,842.4 797.0,846.7 797.4,846.7 797.8,842.4 798.2,834.8 798.6,824.9 799.0,814.0 799.4,802.9 799.8,792.0 800.2,781.7 800.6,772.2 801.0,763.5 801.4,755.7 801.8,748.9 802.2,742.9 802.6,737.8 803.0,733.5 803.4,729.9 803.8,726.9 804.2,724.5 804.6,719.8 805.0,718.4 805.4,718.2 805.8,716.8 806.2,719.1 806.6,715.3 807.0,713.0 807.4,713.4 807.8,720.8 808.2,715.9 808.6,711.3 809.0,715.3 809.4,709.4 809.8,721.3 810.2,709.2 810.6,716.3 811.0,716.4 811.4,709.0 811.8,715.2 812.2,717.6 812.6,715.6 813.0,714.8 813.4,717.2 813.8,714.2 814.2,714.8 814.6,713.1 815.0,715.7 815.4,710.0 815.8,716.2 816.2,711.5 816.6,709.3 817.0,714.5 817.4,719.2 817.8,716.5 818.2,711.2 818.6,715.5 819.0,711.3 819.4,712.5 819.8,713.2 820.2,704.5 820.6,713.5 821.0,709.1 821.4,710.2 821.8,707.4 822.2,707.2 822.6,709.3 823.0,715.6 823.4,718.6 823.8,712.5 824.2,716.5 824.6,711.6 825.0,705.6 825.4,713.0 825.8,714.1 826.2,710.9 826.6,713.5 827.0,714.5 827.4,709.3 827.8,707.1 828.2,710.6 828.6,711.6 829.0,711.1 829.4,715.9 829.8,718.5 830.2,710.8 830.6,714.8 831.0,715.7 831.4,714.8 831.8,716.0 832.2,710.8 832.6,714.9 833.0,719.5 833.4,715.1 833.8,710.0 834.2,714.4 834.6,716.7 835.0,713.5 835.4,710.1 835.8,717.7 836.2,707.6 836.6,713.9 837.0,712.0 837.4,707.8 837.8,716.5 838.2,713.3 838.6,707.9 839.0,714.2 839.4,710.5 839.8,705.2 840.2,709.6 840.6,713.0 841.0,714.3 841.4,712.6 841.8,712.2 842.2,713.7 842.6,711.2 843.0,716.2 843.4,712.5 843.8,713.0 844.2,713.9 844.6,708.1 845.0,709.4 845.4,717.4 845.8,713.1 846.2,710.9 846.6,713.1 847.0,710.2 847.4,712.9 847.8,709.5 848.2,712.9 848.6,706.2 849.0,716.7 849.4,710.0 849.8,706.2 850.2,711.1 850.6,710.5 851.0,713.1 851.4,707.7 851.8,713.3 852.2,720.5 852.6,707.3 853.0,713.1 853.4,710.8 853.8,712.6 854.2,705.4 854.6,707.7 855.0,713.5 855.4,711.7 855.8,717.8 856.2,709.3 856.6,712.5 857.0,720.5 857.4,709.1 857.8,708.6 858.2,711.8 858.6,711.7 859.0,714.9 859.4,712.4 859.8,709.2 860.2,712.7 860.6,720.6 861.0,716.5 861.4,703.3 861.8,711.4 862.2,708.8 862.6,714.2 863.0,711.3 863.4,718.9 863.8,715.3 864.2,715.1 864.6,713.4 865.0,711.8 865.4,713.2 865.8,716.6 866.2,713.9 866.6,710.7 867.0,716.5 867.4,712.6 867.8,711.7 868.2,709.1 868.6,709.9 869.0,709.7 869.4,703.3 869.8,720.0 870.2,714.0 870.6,711.2 871.0,715.8 871.4,713.6 871.8,713.3 872.2,703.4 872.6,711.2 873.0,713.9 873.4,723.5 873.8,718.6 874.2,717.1 874.6,707.8 875.0,704.1 875.4,714.1 875.8,712.2 876.2,719.6 876.6,711.6 877.0,712.8 877.4,706.6 877.8,713.7 878.2,710.4 878.6,713.3 879.0,713.7 879.4,711.6 879.8,713.2 880.2,712.0 880.6,714.8 881.0,713.9 881.4,710.1 881.8,710.0 882.2,718.4 882.6,711.7 883.0,715.7 883.4,713.5 883.8,710.1 884.2,709.4 884.6,712.5 885.0,713.0 885.4,714.3 885.8,707.5 886.2,710.0 886.6,711.8 887.0,717.9 887.4,703.6 887.8,713.7 888.2,710.2 888.6,713.7 889.0,710.4 889.4,713.5 889.8,717.8 890.2,713.4 890.6,713.7 891.0,713.5 891.4,709.5 891.8,714.1 892.2,711.4 892.6,709.2 893.0,712.0 893.4,711.4 893.8,718.1 894.2,712.0 894.6,710.3 895.0,717.4 895.4,715.7 895.8,716.8 896.2,714.4 896.6,711.8 897.0,710.7 897.4,711.2 897.8,715.6 898.2,712.6 898.6,706.9 899.0,712.1 899.4,707.1 899.8,712.8 900.2,707.9 900.6,707.8 901.0,712.8 901.4,712.1 901.8,706.5 902.2,715.2 902.6,720.3 903.0,707.2 903.4,719.2 903.8,710.2 904.2,710.9 904.6,712.1 905.0,707.6 905.4,717.5 905.8,714.7 906.2,710.2 906.6,712.0 907.0,707.6 907.4,711.8 907.8,716.5 908.2,707.0 908.6,711.6 909.0,713.8 909.4,717.1 909.8,718.2 910.2,709.8 910.6,710.8 911.0,715.1 911.4,712.2 911.8,712.5 912.2,717.5 912.6,719.7 913.0,714.7 913.4,713.1 913.8,715.9 914.2,707.1 914.6,713.8 915.0,710.1 915.4,722.6 915.8,716.6 916.2,714.6 916.6,713.4 917.0,705.5 917.4,716.8 917.8,720.1 918.2,708.5 918.6,716.8 919.0,717.0 919.4,708.9 919.8,717.9 920.2,719.4 920.6,715.4 921.0,714.4 921.4,717.5 921.8,709.2 922.2,715.3 922.6,719.0 923.0,711.0 923.4,719.3 923.8,714.4 924.2,708.7 924.6,716.0 925.0,713.2 925.4,718.0 925.8,712.9 926.2,721.1 926.6,714.9 927.0,719.1 927.4,715.9 927.8,717.1 928.2,722.8 928.6,719.6 929.0,717.6 929.4,714.7 929.8,723.7 930.2,722.4 930.6,718.8 931.0,721.1 931.4,716.7 931.8,717.0 932.2,717.9 932.6,722.4 933.0,722.4 933.4,718.9 933.8,724.5 934.2,724.9 934.6,722.9 935.0,726.3 935.4,721.8 935.8,722.6 936.2,725.0 936.6,723.4 937.0,726.6 937.4,719.5 937.8,729.3 938.2,718.3 938.6,724.1 939.0,720.1 939.4,727.6 939.8,730.3 940.2,729.9 940.6,729.4 941.0,721.2 941.4,724.3 941.8,725.8 942.2,720.4 942.6,732.2 943.0,729.1 943.4,728.7 943.8,730.9 944.2,726.1 944.6,726.6 945.0,727.0 945.4,732.3 945.8,732.1 946.2,733.3 946.6,735.4 947.0,727.0 947.4,730.2 947.8,733.1 948.2,728.1 948.6,731.4 949.0,737.3 949.4,737.9 949.8,738.2 950.2,734.8 950.6,734.2 951.0,739.2 951.4,734.3 951.8,737.2 952.2,741.1 952.6,735.5 953.0,735.1 953.4,737.8 953.8,740.6 954.2,740.7 954.6,740.0 955.0,742.0 955.4,734.8 955.8,738.0 956.2,742.2 956.6,738.8 957.0,737.8 957.4,738.8 957.8,740.4 958.2,743.6 958.6,741.1 959.0,746.2 959.4,752.0 959.8,745.8 960.2,751.5 960.6,749.7 961.0,743.9 961.4,747.6 961.8,745.5 962.2,752.3 962.6,745.9 963.0,755.4 963.4,753.2 963.8,744.4 964.2,755.0 964.6,758.2 965.0,750.2 965.4,757.1 965.8,747.6 966.2,755.4 966.6,749.0 967.0,757.2 967.4,749.5 967.8,747.8 968.2,758.3 968.6,765.6 969.0,755.7 969.4,761.3 969.8,759.2 970.2,758.1 970.6,761.9 971.0,766.1 971.4,756.2 971.8,763.2 972.2,762.3 972.6,755.5 973.0,765.9 973.4,766.6 973.8,755.7 974.2,764.8 974.6,758.3 975.0,757.0 975.4,762.5 975.8,757.4 976.2,757.2 976.6,761.0 977.0,759.7 977.4,757.7 977.8,749.0 978.2,747.9 978.6,757.1 979.0,749.2 979.4,752.5 979.8,747.6 980.2,750.3 980.6,745.9 981.0,761.5 981.4,741.4 981.8,748.5 982.2,747.8 982.6,752.3 983.0,742.3 983.4,746.9 983.8,745.9 984.2,748.1 984.6,747.5 985.0,743.7 985.4,745.8 985.8,743.2 986.2,745.8 986.6,743.3 987.0,740.9 987.4,742.8 987.8,745.3 988.2,750.2 988.6,739.9 989.0,742.3 989.4,746.1 989.8,732.9 990.2,733.7 990.6,735.3 991.0,738.7 991.4,747.4 991.8,739.8 992.2,742.5 992.6,737.1 993.0,729.1 993.4,729.2 993.8,740.9 994.2,737.7 994.6,732.1 995.0,740.6 995.4,730.8 995.8,745.1 996.2,741.1 996.6,732.9 997.0,731.5 997.4,738.3 997.8,731.1 998.2,737.9 998.6,730.2 999.0,737.2 999.4,734.8 999.8,732.3 1000.2,730.4 1000.6,734.3 1001.0,726.4 1001.4,732.0 1001.8,731.3 1002.2,734.9 1002.6,727.8 1003.0,738.2 1003.4,730.7 1003.8,727.5 1004.2,736.4 1004.6,737.1 1005.0,729.4 1005.4,727.5 1005.8,730.5 1006.2,727.7 1006.6,728.8 1007.0,735.3 1007.4,730.8 1007.8,730.3 1008.2,730.2 1008.6,728.4 1009.0,731.4 1009.4,731.3 1009.8,726.6 1010.2,728.0 1010.6,736.0 1011.0,728.6 1011.4,726.2 1011.8,734.0 1012.2,726.4 1012.6,722.2 1013.0,728.3 1013.4,722.4 1013.8,723.5 1014.2,726.3 1014.6,724.4 1015.0,721.8 1015.4,722.3 1015.8,721.9 1016.2,728.0 1016.6,721.0 1017.0,721.2 1017.4,730.4 1017.8,720.8 1018.2,727.9 1018.6,727.0 1019.0,721.5 1019.4,716.7 1019.8,723.2 1020.2,723.8 1020.6,724.6 1021.0,721.2 1021.4,725.1 1021.8,725.5 1022.2,716.5 1022.6,725.3 1023.0,720.6 1023.4,717.7 1023.8,718.4 1024.2,726.1 1024.6,722.7 1025.0,712.5 1025.4,719.4 1025.8,718.0 1026.2,717.7 1026.6,716.3 1027.0,712.7 1027.4,720.9 1027.8,714.2 1028.2,716.0 1028.6,715.0 1029.0,714.3 1029.4,719.4 1029.8,717.9 1030.2,713.9 1030.6,712.8 1031.0,714.3 1031.4,719.3 1031.8,716.0 1032.2,716.2 1032.6,714.0 1033.0,714.0 1033.4,715.6 1033.8,708.0 1034.2,720.3 1034.6,711.6 1035.0,712.2 1035.4,719.0 1035.8,714.9 1036.2,714.1 1036.6,711.7 1037.0,708.1 1037.4,714.3 1037.8,717.8 1038.2,710.1 1038.6,718.2 1039.0,709.1 1039.4,710.4 1039.8,714.7 1040.2,712.8 1040.6,715.2 1041.0,709.9 1041.4,708.8 1041.8,705.6 1042.2,707.9 1042.6,708.3 1043.0,706.9 1043.4,713.0 1043.8,709.4 1044.2,704.5 1044.6,720.2 1045.0,708.4 1045.4,706.8 1045.8,715.7 1046.2,720.3 1046.6,706.8 1047.0,705.6 1047.4,707.2 1047.8,714.7 1048.2,709.5 1048.6,707.7 1049.0,710.4 1049.4,714.8 1049.8,705.4 1050.2,709.0 1050.6,705.3 1051.0,718.1 1051.4,716.8 1051.8,713.6 1052.2,709.6 1052.6,712.4 1053.0,702.5 1053.4,711.0 1053.8,705.1 1054.2,705.1 1054.6,707.3 1055.0,708.5 1055.4,711.8 1055.8,712.2 1056.2,710.6 1056.6,706.2 1057.0,711.9 1057.4,709.0 1057.8,713.7 1058.2,706.1 1058.6,700.7 1059.0,707.5 1059.4,717.0 1059.8,710.8 1060.2,708.4 1060.6,712.2 1061.0,710.8 1061.4,710.6 1061.8,707.1 1062.2,709.1 1062.6,709.5 1063.0,706.4 1063.4,704.7 1063.8,709.2 1064.2,712.1 1064.6,710.9 1065.0,710.3 1065.4,710.3 1065.8,717.0 1066.2,709.3 1066.6,712.0 1067.0,715.3 1067.4,708.4 1067.8,709.1 1068.2,711.9 1068.6,714.1 1069.0,710.5 1069.4,709.2 1069.8,708.2 1070.2,703.5 1070.6,711.8 1071.0,706.8 1071.4,701.5 1071.8,707.1 1072.2,701.4 1072.6,703.9 1073.0,707.6 1073.4,704.1 1073.8,711.3 1074.2,702.1 1074.6,708.3 1075.0,709.3 1075.4,712.5 1075.8,710.6 1076.2,708.1 1076.6,707.6 1077.0,707.1 1077.4,711.4 1077.8,702.2 1078.2,709.2 1078.6,707.0 1079.0,708.2 1079.4,706.4 1079.8,715.1 1080.2,702.3 1080.6,708.3 1081.0,708.4 1081.4,709.6 1081.8,709.1 1082.2,709.0 1082.6,711.0 1083.0,702.1 1083.4,707.5 1083.8,703.1 1084.2,708.4 1084.6,703.3 1085.0,704.1 1085.4,707.4 1085.8,712.6 1086.2,709.7 1086.6,708.7 1087.0,712.7 1087.4,704.2 1087.8,700.1 1088.2,706.1 1088.6,706.7 1089.0,712.1 1089.4,715.4 1089.8,702.9 1090.2,716.3 1090.6,713.4 1091.0,710.8 1091.4,709.1 1091.8,719.2 1092.2,708.1 1092.6,706.1 1093.0,708.3 1093.4,702.9 1093.8,709.5 1094.2,707.4 1094.6,709.0 1095.0,709.1 1095.4,704.0 1095.8,712.6 1096.2,704.2 1096.6,715.0 1097.0,702.2 1097.4,709.3 1097.8,705.0 1098.2,708.1 1098.6,705.6 1099.0,700.1 1099.4,704.0 1099.8,708.2 1100.2,710.2 1100.6,702.7 1101.0,700.4 1101.4,704.9 1101.8,707.3 1102.2,705.8 1102.6,705.2 1103.0,711.1 1103.4,711.6 1103.8,710.8 1104.2,704.7 1104.6,708.4 1105.0,707.4 1105.4,703.0 1105.8,711.3 1106.2,708.5 1106.6,706.4 1107.0,713.3 1107.4,711.0 1107.8,711.3 1108.2,712.5 1108.6,710.8 1109.0,698.3 1109.4,706.9 1109.8,711.9 1110.2,705.5 1110.6,708.4 1111.0,709.7 1111.4,713.5 1111.8,718.6 1112.2,711.5 1112.6,707.6 1113.0,715.6 1113.4,712.6 1113.8,707.7 1114.2,713.2 1114.6,710.1 1115.0,705.6 1115.4,712.9 1115.8,707.4 1116.2,710.5 1116.6,702.9 1117.0,708.3 1117.4,705.0 1117.8,704.9 1118.2,701.5 1118.6,716.1 1119.0,707.8 1119.4,710.3 1119.8,712.4 1120.2,707.9 1120.6,710.2 1121.0,703.5 1121.4,709.1 1121.8,706.9 1122.2,710.2 1122.6,709.1 1123.0,703.4 1123.4,701.8 1123.8,704.8 1124.2,711.1 1124.6,710.0 1125.0,709.9 1125.4,701.2 1125.8,699.8 1126.2,706.2 1126.6,707.3 1127.0,706.3 1127.4,709.7 1127.8,707.8 1128.2,704.2 1128.6,705.3 1129.0,709.0 1129.4,708.7 1129.8,708.2 1130.2,716.7 1130.6,707.5 1131.0,708.9 1131.4,704.9 1131.8,707.2 1132.2,710.4 1132.6,710.6 1133.0,707.3 1133.4,709.9 1133.8,708.7 1134.2,701.8 1134.6,699.9 1135.0,716.9 1135.4,711.5 1135.8,708.3 1136.2,702.3 1136.6,704.0 1137.0,713.4 1137.4,699.9 1137.8,707.4 1138.2,711.7 1138.6,709.1 1139.0,711.3 1139.4,708.1 1139.8,717.2 1140.2,704.9 1140.6,703.7 1141.0,709.6 1141.4,713.8 1141.8,708.4 1142.2,712.4 1142.6,706.7 1143.0,704.4 1143.4,713.7 1143.8,714.3 1144.2,714.2 1144.6,707.1 1145.0,704.5 1145.4,704.5 1145.8,707.9 1146.2,710.8 1146.6,710.5 1147.0,703.5 1147.4,709.4 1147.8,708.8 1148.2,709.0 1148.6,708.6 1149.0,708.0 1149.4,710.8" fill="none" stroke="#6b4329" stroke-width="4.6" stroke-linejoin="round" />
<polyline points="1179.5,707.8 1179.9,711.6 1180.3,710.6 1180.7,710.6 1181.1,713.9 1181.5,703.8 1181.9,705.9 1182.3,703.5 1182.7,707.9 1183.1,712.0 1183.5,708.4 1183.9,710.3 1184.3,701.7 1184.7,709.2 1185.1,705.5 1185.5,715.2 1185.9,712.1 1186.3,716.4 1186.7,708.8 1187.1,711.3 1187.5,711.5 1187.9,708.0 1188.3,707.5 1188.7,708.9 1189.1,707.2 1189.5,707.3 1189.9,708.5 1190.3,707.0 1190.7,712.4 1191.1,704.0 1191.5,712.8 1191.9,707.6 1192.3,708.0 1192.7,705.1 1193.1,709.5 1193.5,709.2 1193.9,710.9 1194.3,708.3 1194.7,710.7 1195.1,716.9 1195.5,711.9 1195.9,708.5 1196.3,714.0 1196.7,710.2 1197.1,712.9 1197.5,713.2 1197.9,709.8 1198.3,699.9 1198.7,710.4 1199.1,713.8 1199.5,710.7 1199.9,713.9 1200.3,716.0 1200.7,708.4 1201.1,717.4 1201.5,719.0 1201.9,717.3 1202.3,717.8 1202.7,717.8 1203.1,722.2 1203.5,715.0 1203.9,714.5 1204.3,716.9 1204.7,711.7 1205.1,709.6 1205.5,712.2 1205.9,717.0 1206.3,717.5 1206.7,710.5 1207.1,709.5 1207.5,715.4 1207.9,716.0 1208.3,716.8 1208.7,719.6 1209.1,721.8 1209.5,718.4 1209.9,720.0 1210.3,714.1 1210.7,714.0 1211.1,719.3 1211.5,721.1 1211.9,721.5 1212.3,721.3 1212.7,722.2 1213.1,722.5 1213.5,713.5 1213.9,717.4 1214.3,723.8 1214.7,722.6 1215.1,715.2 1215.5,725.0 1215.9,719.3 1216.3,720.2 1216.7,722.1 1217.1,724.0 1217.5,716.2 1217.9,725.1 1218.3,721.9 1218.7,719.0 1219.1,720.9 1219.5,714.1 1219.9,719.8 1220.3,722.9 1220.7,719.8 1221.1,721.3 1221.5,722.0 1221.9,722.9 1222.3,726.5 1222.7,722.8 1223.1,722.1 1223.5,725.1 1223.9,730.8 1224.3,722.2 1224.7,725.4 1225.1,718.0 1225.5,728.6 1225.9,726.3 1226.3,728.8 1226.7,723.9 1227.1,720.5 1227.5,727.5 1227.9,727.2 1228.3,721.5 1228.7,719.4 1229.1,726.4 1229.5,724.3 1229.9,733.7 1230.3,723.0 1230.7,723.4 1231.1,725.0 1231.5,719.6 1231.9,722.5 1232.3,731.7 1232.7,725.4 1233.1,723.8 1233.5,721.6 1233.9,728.4 1234.3,728.7 1234.7,727.4 1235.1,725.2 1235.5,727.9 1235.9,728.3 1236.3,724.7 1236.7,732.2 1237.1,719.9 1237.5,723.0 1237.9,726.7 1238.3,727.6 1238.7,723.9 1239.1,729.5 1239.5,732.3 1239.9,730.3 1240.3,729.6 1240.7,732.0 1241.1,730.6 1241.5,725.2 1241.9,728.7 1242.3,734.3 1242.7,725.7 1243.1,730.2 1243.5,728.7 1243.9,727.1 1244.3,726.8 1244.7,731.0 1245.1,731.9 1245.5,732.1 1245.9,725.9 1246.3,730.3 1246.7,732.7 1247.1,735.1 1247.5,734.2 1247.9,735.0 1248.3,736.1 1248.7,735.3 1249.1,729.5 1249.5,732.9 1249.9,730.3 1250.3,724.4 1250.7,727.1 1251.1,740.8 1251.5,729.5 1251.9,725.6 1252.3,731.7 1252.7,739.5 1253.1,734.0 1253.5,735.8 1253.9,733.5 1254.3,734.4 1254.7,739.5 1255.1,738.0 1255.5,735.1 1255.9,742.7 1256.3,744.3 1256.7,735.3 1257.1,737.2 1257.5,737.4 1257.9,734.3 1258.3,741.1 1258.7,736.6 1259.1,735.2 1259.5,731.6 1259.9,733.3 1260.3,743.5 1260.7,734.2 1261.1,740.0 1261.5,737.4 1261.9,740.8 1262.3,741.3 1262.7,736.6 1263.1,738.6 1263.5,740.2 1263.9,740.5 1264.3,740.2 1264.7,739.4 1265.1,743.0 1265.5,745.7 1265.9,743.1 1266.3,738.7 1266.7,743.1 1267.1,742.1 1267.5,743.7 1267.9,748.9 1268.3,741.7 1268.7,742.7 1269.1,739.8 1269.5,742.1 1269.9,741.4 1270.3,749.5 1270.7,745.3 1271.1,742.5 1271.5,751.9 1271.9,740.6 1272.3,748.9 1272.7,749.8 1273.1,748.6 1273.5,746.0 1273.9,746.9 1274.3,746.5 1274.7,751.0 1275.1,740.1 1275.5,747.1 1275.9,749.9 1276.3,747.6 1276.7,743.6 1277.1,749.6 1277.5,748.2 1277.9,754.2 1278.3,756.7 1278.7,752.4 1279.1,745.5 1279.5,752.2 1279.9,750.0 1280.3,756.2 1280.7,760.2 1281.1,755.6 1281.5,762.2 1281.9,760.7 1282.3,758.2 1282.7,753.0 1283.1,757.2 1283.5,752.1 1283.9,761.4 1284.3,758.5 1284.7,763.5 1285.1,760.0 1285.5,752.4 1285.9,762.1 1286.3,763.5 1286.7,766.6 1287.1,757.5 1287.5,754.7 1287.9,762.0 1288.3,758.4 1288.7,757.6 1289.1,759.0 1289.5,771.5 1289.9,761.4 1290.3,760.4 1290.7,762.8 1291.1,764.8 1291.5,769.8 1291.9,769.0 1292.3,768.8 1292.7,766.5 1293.1,767.3 1293.5,764.9 1293.9,762.1 1294.3,775.3 1294.7,766.7 1295.1,772.4 1295.5,768.0 1295.9,769.2 1296.3,769.3 1296.7,765.1 1297.1,770.1 1297.5,772.0 1297.9,773.9 1298.3,772.9 1298.7,775.1 1299.1,772.7 1299.5,771.9 1299.9,765.1 1300.3,770.5 1300.7,778.3 1301.1,773.4 1301.5,776.1 1301.9,772.7 1302.3,771.3 1302.7,781.4 1303.1,775.6 1303.5,779.9 1303.9,776.7 1304.3,774.0 1304.7,767.3 1305.1,775.8 1305.5,769.8 1305.9,767.3 1306.3,779.7 1306.7,777.7 1307.1,777.3 1307.5,775.1 1307.9,774.6 1308.3,776.2 1308.7,775.1 1309.1,774.7 1309.5,777.0 1309.9,765.4 1310.3,777.3 1310.7,771.7 1311.1,777.0 1311.5,778.0 1311.9,770.6 1312.3,776.4 1312.7,776.2 1313.1,770.7 1313.5,771.2 1313.9,773.4 1314.3,764.9 1314.7,771.1 1315.1,773.3 1315.5,770.9 1315.9,766.6 1316.3,770.9 1316.7,777.6 1317.1,782.6 1317.5,771.5 1317.9,769.0 1318.3,771.7 1318.7,771.7 1319.1,769.1 1319.5,770.2 1319.9,773.6 1320.3,774.6 1320.7,762.5 1321.1,774.7 1321.5,771.6 1321.9,775.2 1322.3,770.9 1322.7,772.5 1323.1,776.8 1323.5,762.2 1323.9,776.5 1324.3,771.4 1324.7,764.1 1325.1,762.0 1325.5,771.7 1325.9,766.8 1326.3,774.1 1326.7,771.2 1327.1,769.9 1327.5,773.9 1327.9,771.0 1328.3,776.1 1328.7,773.2 1329.1,771.3 1329.5,772.9 1329.9,772.9 1330.3,765.1 1330.7,769.0 1331.1,769.5 1331.5,768.5 1331.9,764.1 1332.3,767.7 1332.7,770.9 1333.1,770.3 1333.5,775.1 1333.9,767.4 1334.3,767.9 1334.7,764.9 1335.1,768.3 1335.5,767.2 1335.9,762.6 1336.3,770.7 1336.7,773.3 1337.1,774.1 1337.5,766.4 1337.9,769.9 1338.3,782.4 1338.7,770.8 1339.1,772.7 1339.5,771.2 1339.9,775.6 1340.3,775.8 1340.7,780.9 1341.1,774.6 1341.5,774.7 1341.9,769.0 1342.3,772.2 1342.7,771.4 1343.1,773.0 1343.5,769.8 1343.9,779.2 1344.3,771.3 1344.7,776.3 1345.1,771.1 1345.5,777.1 1345.9,782.1 1346.3,773.8 1346.7,778.7 1347.1,777.7 1347.5,779.6 1347.9,780.8 1348.3,777.6 1348.7,779.9 1349.1,779.0 1349.5,778.8 1349.9,778.0 1350.3,786.5 1350.7,781.0 1351.1,786.7 1351.5,787.0 1351.9,782.0 1352.3,790.0 1352.7,783.8 1353.1,789.8 1353.5,793.4 1353.9,786.2 1354.3,782.1 1354.7,786.7 1355.1,799.0 1355.5,790.0 1355.9,787.4 1356.3,795.8 1356.7,793.1 1357.1,794.5 1357.5,792.0 1357.9,788.5 1358.3,794.8 1358.7,794.6 1359.1,793.4 1359.5,796.3 1359.9,797.7 1360.3,805.0 1360.7,805.5 1361.1,805.8 1361.5,802.9 1361.9,801.2 1362.3,807.4 1362.7,808.5 1363.1,811.0 1363.5,807.8 1363.9,807.9 1364.3,810.0 1364.7,806.1 1365.1,807.1 1365.5,812.8 1365.9,806.4 1366.3,811.2 1366.7,814.8 1367.1,813.4 1367.5,814.6 1367.9,809.5 1368.3,814.1 1368.7,814.6 1369.1,816.7 1369.5,823.4 1369.9,830.2 1370.3,836.9 1370.7,843.7 1371.1,850.4 1371.5,857.2 1371.9,863.9 1372.3,870.7 1372.7,877.4 1373.1,884.2 1373.5,890.9 1373.9,897.7 1374.3,907.6 1374.7,918.7 1375.1,929.7 1375.5,940.7 1375.9,951.8 1376.3,962.8 1376.7,973.8 1377.1,984.9 1377.5,995.9 1377.9,1003.3 1378.3,1009.4 1378.7,1015.5 1379.1,1021.6 1379.5,1027.7 1379.9,1033.8 1380.3,1036.8 1380.7,1030.4 1381.1,1024.1 1381.5,1017.7 1381.9,1011.4 1382.3,1005.0 1382.7,998.7 1383.1,987.9 1383.5,977.2 1383.9,966.5 1384.3,955.7 1384.7,945.0 1385.1,934.3 1385.5,923.5 1385.9,912.8 1386.3,902.1 1386.7,894.2 1387.1,887.3 1387.5,880.4 1387.9,873.5 1388.3,866.6 1388.7,859.6 1389.1,852.7 1389.5,845.8 1389.9,838.9 1390.3,832.0 1390.7,825.1 1391.1,819.4 1391.5,817.1 1391.9,814.9 1392.3,818.1 1392.7,806.9 1393.1,808.0 1393.5,805.1 1393.9,803.6 1394.3,798.9 1394.7,793.8 1395.1,808.7 1395.5,788.2 1395.9,789.9 1396.3,782.4 1396.7,789.7 1397.1,792.3 1397.5,791.0 1397.9,792.5 1398.3,787.8 1398.7,782.2 1399.1,779.0 1399.5,782.4 1399.9,775.3 1400.3,774.4 1400.7,768.5 1401.1,770.7 1401.5,776.3 1401.9,767.7 1402.3,768.2 1402.7,756.9 1403.1,769.2 1403.5,764.5 1403.9,767.1 1404.3,761.7 1404.7,756.5 1405.1,753.5 1405.5,759.0 1405.9,755.9 1406.3,751.5 1406.7,753.9 1407.1,751.0 1407.5,758.3 1407.9,750.0 1408.3,746.2 1408.7,749.5 1409.1,746.9 1409.5,753.3 1409.9,745.5 1410.3,741.5 1410.7,745.2 1411.1,743.6 1411.5,744.6 1411.9,743.5 1412.3,738.2 1412.7,740.8 1413.1,739.9 1413.5,735.6 1413.9,737.4 1414.3,739.8 1414.7,732.9 1415.1,734.3 1415.5,736.1 1415.9,737.1 1416.3,738.8 1416.7,731.7 1417.1,737.2 1417.5,738.0 1417.9,740.9 1418.3,733.4 1418.7,731.2 1419.1,728.6 1419.5,735.7 1419.9,738.0 1420.3,730.5 1420.7,734.2 1421.1,735.3 1421.5,735.2 1421.9,730.0 1422.3,733.4 1422.7,730.5 1423.1,727.0 1423.5,730.9 1423.9,730.9 1424.3,725.8 1424.7,730.5 1425.1,735.7 1425.5,723.0 1425.9,733.8 1426.3,731.3 1426.7,728.0 1427.1,728.8 1427.5,726.5 1427.9,732.2 1428.3,723.7 1428.7,726.4 1429.1,719.7 1429.5,727.6 1429.9,727.6 1430.3,720.1 1430.7,722.7 1431.1,727.4 1431.5,723.7 1431.9,720.9 1432.3,716.6 1432.7,726.1 1433.1,731.6 1433.5,722.8 1433.9,725.8 1434.3,725.6 1434.7,723.6 1435.1,724.2 1435.5,723.9 1435.9,720.2 1436.3,732.0 1436.7,731.8 1437.1,723.9 1437.5,729.0 1437.9,719.5 1438.3,721.4 1438.7,726.1 1439.1,717.7 1439.5,717.0 1439.9,722.7 1440.3,714.2 1440.7,727.5 1441.1,723.9 1441.5,722.0 1441.9,723.5 1442.3,717.7 1442.7,717.5 1443.1,723.8 1443.5,724.1 1443.9,721.1 1444.3,720.3 1444.7,718.5 1445.1,725.3 1445.5,714.9 1445.9,717.0 1446.3,718.1 1446.7,714.4 1447.1,715.1 1447.5,716.0 1447.9,723.3 1448.3,726.1 1448.7,720.7 1449.1,713.5 1449.5,717.1 1449.9,718.7 1450.3,718.1 1450.7,717.6 1451.1,720.7 1451.5,711.8 1451.9,716.6 1452.3,719.4 1452.7,721.1 1453.1,719.4 1453.5,718.4 1453.9,717.7 1454.3,715.7 1454.7,718.3 1455.1,717.2 1455.5,715.3 1455.9,722.1 1456.3,721.9 1456.7,716.2 1457.1,719.7 1457.5,721.7 1457.9,719.6 1458.3,717.7 1458.7,718.9 1459.1,711.1 1459.5,711.8 1459.9,718.7 1460.3,717.7 1460.7,721.6 1461.1,714.8 1461.5,720.5 1461.9,720.3 1462.3,727.7 1462.7,713.4 1463.1,714.9 1463.5,717.1 1463.9,717.0 1464.3,712.4 1464.7,711.6 1465.1,711.1 1465.5,727.1 1465.9,715.4 1466.3,715.6 1466.7,713.3 1467.1,715.5 1467.5,718.2 1467.9,714.1 1468.3,715.1 1468.7,722.9 1469.1,718.4 1469.5,715.8 1469.9,713.4 1470.3,714.7 1470.7,712.0 1471.1,715.6 1471.5,712.1 1471.9,711.8 1472.3,712.9 1472.7,710.4 1473.1,714.9 1473.5,722.6 1473.9,711.7 1474.3,707.9 1474.7,717.2 1475.1,713.3 1475.5,720.7 1475.9,714.9 1476.3,716.8 1476.7,710.5 1477.1,707.5 1477.5,712.5 1477.9,715.4 1478.3,709.8 1478.7,707.1 1479.1,710.6 1479.5,711.1 1479.9,711.4 1480.3,712.4 1480.7,721.0 1481.1,712.4 1481.5,710.4 1481.9,708.2 1482.3,714.9 1482.7,700.6 1483.1,717.0 1483.5,711.7 1483.9,706.3 1484.3,712.3 1484.7,711.1 1485.1,715.8 1485.5,706.0 1485.9,712.0 1486.3,711.1 1486.7,714.4 1487.1,706.9 1487.5,708.1 1487.9,717.9 1488.3,712.8 1488.7,705.4 1489.1,711.8 1489.5,707.7 1489.9,708.0 1490.3,706.0 1490.7,713.8 1491.1,708.3 1491.5,710.8 1491.9,710.3 1492.3,704.5 1492.7,707.2 1493.1,712.6 1493.5,704.1 1493.9,710.5 1494.3,709.2 1494.7,711.8 1495.1,711.9 1495.5,712.3 1495.9,709.5 1496.3,710.1 1496.7,706.6 1497.1,707.1 1497.5,712.2 1497.9,706.7 1498.3,712.5 1498.7,712.3 1499.1,705.8 1499.5,710.6 1499.9,705.6 1500.3,709.7 1500.7,705.6 1501.1,709.6 1501.5,709.0 1501.9,704.6 1502.3,715.7 1502.7,711.8 1503.1,702.6 1503.5,709.5 1503.9,706.7 1504.3,715.6 1504.7,708.0 1505.1,709.6 1505.5,707.5 1505.9,710.4 1506.3,706.2 1506.7,704.9 1507.1,706.3 1507.5,706.5 1507.9,710.3 1508.3,708.3 1508.7,706.4 1509.1,706.5 1509.5,704.7 1509.9,708.4 1510.3,700.6 1510.7,707.1 1511.1,712.1 1511.5,706.5 1511.9,705.4 1512.3,707.9 1512.7,704.4 1513.1,705.0 1513.5,710.1 1513.9,705.4 1514.3,714.7 1514.7,709.6 1515.1,707.2 1515.5,705.3 1515.9,706.6 1516.3,699.4 1516.7,708.4 1517.1,710.7 1517.5,709.5 1517.9,705.9 1518.3,709.6 1518.7,709.7 1519.1,706.9 1519.5,708.6 1519.9,711.0 1520.3,708.9 1520.7,705.9 1521.1,707.2 1521.5,707.7 1521.9,701.4 1522.3,707.6 1522.7,706.6 1523.1,699.3 1523.5,700.9 1523.9,713.5 1524.3,707.4 1524.7,711.8 1525.1,705.6 1525.5,712.4 1525.9,708.9 1526.3,704.4 1526.7,707.9 1527.1,712.5 1527.5,715.4 1527.9,708.6 1528.3,705.2 1528.7,703.6 1529.1,709.2 1529.5,715.3 1529.9,707.2 1530.3,706.3 1530.7,709.6 1531.1,708.4 1531.5,708.1 1531.9,701.2 1532.3,705.5 1532.7,718.2 1533.1,706.6 1533.5,715.3 1533.9,708.0 1534.3,705.6 1534.7,707.6 1535.1,708.7 1535.5,704.0 1535.9,707.4 1536.3,705.0 1536.7,711.8 1537.1,704.9 1537.5,706.9 1537.9,701.1 1538.3,701.5 1538.7,706.1 1539.1,703.1 1539.5,705.4 1539.9,707.2 1540.3,708.4 1540.7,701.3 1541.1,704.9 1541.5,708.7 1541.9,703.9 1542.3,701.6 1542.7,703.8 1543.1,712.1 1543.5,706.4 1543.9,711.9 1544.3,705.2 1544.7,710.5 1545.1,701.0 1545.5,705.3 1545.9,706.5 1546.3,712.5 1546.7,707.9 1547.1,710.2 1547.5,704.6 1547.9,704.6 1548.3,710.7 1548.7,711.3 1549.1,710.5 1549.5,710.4 1549.9,704.2 1550.3,713.8 1550.7,706.7 1551.1,710.6 1551.5,708.7 1551.9,699.7 1552.3,699.0 1552.7,700.2 1553.1,705.8 1553.5,710.0 1553.9,705.1 1554.3,709.0 1554.7,696.2 1555.1,703.7 1555.5,702.7 1555.9,706.0 1556.3,701.7 1556.7,705.5 1557.1,708.0 1557.5,704.2 1557.9,702.6 1558.3,704.2 1558.7,701.4 1559.1,702.1 1559.5,708.7 1559.9,707.0 1560.3,700.6 1560.7,704.8 1561.1,707.4 1561.5,708.7 1561.9,708.2 1562.3,713.7 1562.7,705.8 1563.1,705.8 1563.5,705.0 1563.9,709.9 1564.3,709.1 1564.7,712.4 1565.1,710.1 1565.5,699.6 1565.9,700.7 1566.3,701.1 1566.7,702.9 1567.1,708.3 1567.5,701.1 1567.9,698.8 1568.3,705.5 1568.7,709.1 1569.1,709.0 1569.5,712.2 1569.9,706.1 1570.3,704.2 1570.7,705.1 1571.1,701.4 1571.5,703.8 1571.9,710.9 1572.3,713.9 1572.7,710.9 1573.1,707.4 1573.5,705.5 1573.9,707.2 1574.3,699.6 1574.7,708.5 1575.1,709.2 1575.5,705.9 1575.9,706.5 1576.3,700.3 1576.7,712.6 1577.1,709.3 1577.5,698.0 1577.9,704.4 1578.3,707.8 1578.7,712.6 1579.1,703.5 1579.5,706.5 1579.9,711.9 1580.3,708.4 1580.7,705.9 1581.1,705.1 1581.5,706.8 1581.9,703.9 1582.3,710.5 1582.7,703.7 1583.1,708.9 1583.5,710.3 1583.9,711.3 1584.3,707.4 1584.7,707.1 1585.1,708.4 1585.5,707.5 1585.9,711.2 1586.3,706.9 1586.7,714.3 1587.1,715.8 1587.5,705.1 1587.9,708.9 1588.3,703.3 1588.7,710.2 1589.1,709.0 1589.5,706.7 1589.9,703.7 1590.3,708.0 1590.7,714.8 1591.1,713.4 1591.5,709.0 1591.9,705.4 1592.3,707.5 1592.7,704.7 1593.1,702.7 1593.5,704.2 1593.9,709.8 1594.3,708.8 1594.7,708.3 1595.1,703.7 1595.5,702.6 1595.9,715.9 1596.3,706.4 1596.7,712.0 1597.1,705.1 1597.5,711.3 1597.9,708.7 1598.3,706.2 1598.7,704.6" fill="none" stroke="#6b4329" stroke-width="4.6" stroke-linejoin="round" />
<text x="1460" y="1027.6" font-size="28" fill="#000" transform="translate(1460.8 0) scale(1.051 1) translate(-1463 0)" stroke="#000" stroke-width="0.35"><tspan font-style="italic">T</tspan> = 10 K</text>
<line x1="1321.8" y1="900.9" x2="1367.4" y2="997.05" stroke="#000" stroke-width="4" />
<polygon points="1357.15,995.27 1373.4,1009.7 1372.51,987.99" fill="#000"/>
<rect x="994.3" y="858" width="321.7" height="93.5" fill="#fff" stroke="#000" stroke-width="2.7"/>
<line x1="1026" y1="904.5" x2="1314" y2="904.5" stroke="#bdbdbd" stroke-width="2" />
<line x1="979.2" y1="865.3" x2="994.3" y2="865.3" stroke="#000" stroke-width="2.7" />
<text x="972" y="875.3" font-size="28" fill="#000" text-anchor="end"  stroke="#000" stroke-width="0.35">2</text>
<line x1="979.2" y1="904.5" x2="994.3" y2="904.5" stroke="#000" stroke-width="2.7" />
<text x="972" y="914.5" font-size="28" fill="#000" text-anchor="end"  stroke="#000" stroke-width="0.35">0</text>
<line x1="979.2" y1="943.7" x2="994.3" y2="943.7" stroke="#000" stroke-width="2.7" />
<text x="972" y="953.7" font-size="28" fill="#000" text-anchor="end"  stroke="#000" stroke-width="0.35">−2</text>
<line x1="1026" y1="951.6" x2="1026" y2="966.2" stroke="#000" stroke-width="2.7" />
<text x="1026" y="1000.5" font-size="28" fill="#000" text-anchor="middle"  stroke="#000" stroke-width="0.35">0</text>
<line x1="1155" y1="951.6" x2="1155" y2="966.2" stroke="#000" stroke-width="2.7" />
<text x="1155" y="1000.5" font-size="28" fill="#000" text-anchor="middle"  stroke="#000" stroke-width="0.35">2</text>
<line x1="1284" y1="951.6" x2="1284" y2="966.2" stroke="#000" stroke-width="2.7" />
<text x="1284" y="1000.5" font-size="28" fill="#000" text-anchor="middle"  stroke="#000" stroke-width="0.35">4</text>
<text x="1088.79" y="1040.3" font-size="28" fill="#000" textLength="127.28" lengthAdjust="spacingAndGlyphs"  stroke="#000" stroke-width="0.35">Time (ms)</text>
<text x="871" y="904.5" font-size="28" fill="#000" text-anchor="middle" transform="rotate(-90 871 904.5) translate(871 904.5) scale(1.05 1) translate(-871 -904.5)" stroke="#000" stroke-width="0.35">ΔPL/PL</text>
<text x="906" y="905.5" font-size="28" fill="#000" text-anchor="middle" transform="rotate(-90 906 905.5) translate(906 905.5) scale(1.04 1) translate(-906 -905.5)" stroke="#000" stroke-width="0.35">(10<tspan font-size="20" dy="-9.5">−2</tspan><tspan dy="9.5"> %)</tspan></text>
<polyline points="992.5,849 1022.6,849 1022.6,815.5 1149.7,815.5 1149.7,849 1316.5,849" fill="none" stroke="#000" stroke-width="3.2"/>
<text x="1028.66" y="839.9" font-size="28" fill="#000" textLength="88.95" lengthAdjust="spacingAndGlyphs"  stroke="#000" stroke-width="0.35">mw on</text>
<text x="1157.33" y="839.9" font-size="28" fill="#000" textLength="89.72" lengthAdjust="spacingAndGlyphs"  stroke="#000" stroke-width="0.35">mw off</text>
<polyline points="995.7,910.8 995.9,893.9 996.2,907.4 996.5,903.8 996.7,908.8 997.0,905.1 997.2,916.3 997.5,903.6 997.7,901.5 998.0,905.8 998.3,905.2 998.5,902.1 998.8,902.5 999.0,906.4 999.3,906.3 999.6,901.5 999.8,902.0 1000.1,896.3 1000.3,910.2 1000.6,902.6 1000.8,908.9 1001.1,905.2 1001.4,911.3 1001.6,909.7 1001.9,904.8 1002.1,909.4 1002.4,899.7 1002.7,908.6 1002.9,897.6 1003.2,904.9 1003.4,907.8 1003.7,904.4 1003.9,902.1 1004.2,900.3 1004.5,902.1 1004.7,907.7 1005.0,907.1 1005.2,902.5 1005.5,898.5 1005.7,906.2 1006.0,897.7 1006.3,901.4 1006.5,900.6 1006.8,906.5 1007.0,904.5 1007.3,905.4 1007.6,904.6 1007.8,900.8 1008.1,905.7 1008.3,914.8 1008.6,903.4 1008.8,906.1 1009.1,903.0 1009.4,907.6 1009.6,906.2 1009.9,907.0 1010.1,904.9 1010.4,910.1 1010.6,902.1 1010.9,902.2 1011.2,901.2 1011.4,906.0 1011.7,901.0 1011.9,900.9 1012.2,906.4 1012.5,908.2 1012.7,905.8 1013.0,893.9 1013.2,899.7 1013.5,899.2 1013.7,898.7 1014.0,901.9 1014.3,910.8 1014.5,902.3 1014.8,900.6 1015.0,906.3 1015.3,903.8 1015.6,904.0 1015.8,900.8 1016.1,903.5 1016.3,905.3 1016.6,895.9 1016.8,897.1 1017.1,907.9 1017.4,906.9 1017.6,901.5 1017.9,899.4 1018.1,902.8 1018.4,898.7 1018.6,902.2 1018.9,910.1 1019.2,904.0 1019.4,908.2 1019.7,902.6 1019.9,905.0 1020.2,909.1 1020.5,898.2 1020.7,902.1 1021.0,902.9 1021.2,904.6 1021.5,909.7 1021.7,909.0 1022.0,897.5 1022.3,902.4 1022.5,899.9 1022.8,899.8 1023.0,911.6 1023.3,899.3 1023.5,904.5 1023.8,900.7 1024.1,907.0 1024.3,904.9 1024.6,904.0 1024.8,903.2 1025.1,908.1 1025.4,899.8 1025.6,900.6 1025.9,899.1 1026.1,948.3 1026.4,941.2 1026.6,937.6 1026.9,939.5 1027.2,950.2 1027.4,939.6 1027.7,942.9 1027.9,940.8 1028.2,938.4 1028.5,935.1 1028.7,936.1 1029.0,935.5 1029.2,927.6 1029.5,945.6 1029.7,942.9 1030.0,935.6 1030.3,933.9 1030.5,931.1 1030.8,937.7 1031.0,932.7 1031.3,935.0 1031.5,927.2 1031.8,933.9 1032.1,940.0 1032.3,930.5 1032.6,934.5 1032.8,931.1 1033.1,935.1 1033.4,934.6 1033.6,930.5 1033.9,927.5 1034.1,930.6 1034.4,929.3 1034.6,926.4 1034.9,930.4 1035.2,930.1 1035.4,924.5 1035.7,927.4 1035.9,937.2 1036.2,930.6 1036.4,927.5 1036.7,936.5 1037.0,924.9 1037.2,916.9 1037.5,918.6 1037.7,920.0 1038.0,926.9 1038.3,929.6 1038.5,916.8 1038.8,929.8 1039.0,920.2 1039.3,926.0 1039.5,928.5 1039.8,926.3 1040.1,924.5 1040.3,925.0 1040.6,919.6 1040.8,925.1 1041.1,927.7 1041.4,927.4 1041.6,933.1 1041.9,927.7 1042.1,926.2 1042.4,929.8 1042.6,924.0 1042.9,917.7 1043.2,913.8 1043.4,927.7 1043.7,924.8 1043.9,925.8 1044.2,919.6 1044.4,923.5 1044.7,929.6 1045.0,923.3 1045.2,917.4 1045.5,920.0 1045.7,927.2 1046.0,917.2 1046.3,911.9 1046.5,912.2 1046.8,915.9 1047.0,924.4 1047.3,921.5 1047.5,918.0 1047.8,915.8 1048.1,920.4 1048.3,920.1 1048.6,918.4 1048.8,919.6 1049.1,917.5 1049.3,927.7 1049.6,910.9 1049.9,920.8 1050.1,916.2 1050.4,923.0 1050.6,919.2 1050.9,921.5 1051.2,924.3 1051.4,920.8 1051.7,923.8 1051.9,914.3 1052.2,923.6 1052.4,918.8 1052.7,921.2 1053.0,925.8 1053.2,924.0 1053.5,927.4 1053.7,906.6 1054.0,915.6 1054.3,923.2 1054.5,914.8 1054.8,918.5 1055.0,926.0 1055.3,926.1 1055.5,915.3 1055.8,920.9 1056.1,921.6 1056.3,919.5 1056.6,918.5 1056.8,919.5 1057.1,912.8 1057.3,919.3 1057.6,914.9 1057.9,920.3 1058.1,920.4 1058.4,915.1 1058.6,921.1 1058.9,920.0 1059.2,918.4 1059.4,924.3 1059.7,917.2 1059.9,917.3 1060.2,918.7 1060.4,918.1 1060.7,922.9 1061.0,908.8 1061.2,917.0 1061.5,910.2 1061.7,916.1 1062.0,919.1 1062.2,918.1 1062.5,921.9 1062.8,919.2 1063.0,908.5 1063.3,913.4 1063.5,924.0 1063.8,924.0 1064.1,918.1 1064.3,911.5 1064.6,926.4 1064.8,909.2 1065.1,918.8 1065.3,917.4 1065.6,918.5 1065.9,912.8 1066.1,915.8 1066.4,921.7 1066.6,915.4 1066.9,911.8 1067.2,917.2 1067.4,917.6 1067.7,915.8 1067.9,914.0 1068.2,921.2 1068.4,916.6 1068.7,912.4 1069.0,918.0 1069.2,917.0 1069.5,917.6 1069.7,910.2 1070.0,913.9 1070.2,918.8 1070.5,920.7 1070.8,918.4 1071.0,917.6 1071.3,919.9 1071.5,920.9 1071.8,924.0 1072.1,918.9 1072.3,914.7 1072.6,918.9 1072.8,909.2 1073.1,917.2 1073.3,915.2 1073.6,916.9 1073.9,918.9 1074.1,917.1 1074.4,911.1 1074.6,915.5 1074.9,913.7 1075.1,916.8 1075.4,918.3 1075.7,913.0 1075.9,919.8 1076.2,922.0 1076.4,915.7 1076.7,919.7 1077.0,910.9 1077.2,914.6 1077.5,920.6 1077.7,909.7 1078.0,914.7 1078.2,913.1 1078.5,921.3 1078.8,925.8 1079.0,914.1 1079.3,917.1 1079.5,907.0 1079.8,920.0 1080.1,918.0 1080.3,921.9 1080.6,907.0 1080.8,917.9 1081.1,915.1 1081.3,906.9 1081.6,913.7 1081.9,916.1 1082.1,919.6 1082.4,917.2 1082.6,914.3 1082.9,918.2 1083.1,915.9 1083.4,913.7 1083.7,912.2 1083.9,916.9 1084.2,916.9 1084.4,923.6 1084.7,914.4 1085.0,929.1 1085.2,917.6 1085.5,920.9 1085.7,912.6 1086.0,912.7 1086.2,914.9 1086.5,919.7 1086.8,916.8 1087.0,919.1 1087.3,917.4 1087.5,920.2 1087.8,916.9 1088.0,913.9 1088.3,918.1 1088.6,916.4 1088.8,928.8 1089.1,915.4 1089.3,916.4 1089.6,914.7 1089.9,920.6 1090.1,919.4 1090.4,918.5 1090.6,910.9 1090.9,909.8 1091.1,916.9 1091.4,918.7 1091.7,921.7 1091.9,908.6 1092.2,915.1 1092.4,909.0 1092.7,911.9 1093.0,914.9 1093.2,919.6 1093.5,913.6 1093.7,912.8 1094.0,914.4 1094.2,920.7 1094.5,925.2 1094.8,909.5 1095.0,914.5 1095.3,913.9 1095.5,920.3 1095.8,917.3 1096.0,921.7 1096.3,911.5 1096.6,915.6 1096.8,913.7 1097.1,911.1 1097.3,914.8 1097.6,910.7 1097.9,924.1 1098.1,917.1 1098.4,911.3 1098.6,913.0 1098.9,922.3 1099.1,913.4 1099.4,918.1 1099.7,917.7 1099.9,919.7 1100.2,917.8 1100.4,914.4 1100.7,912.9 1100.9,908.1 1101.2,915.0 1101.5,915.8 1101.7,912.3 1102.0,914.6 1102.2,910.3 1102.5,923.8 1102.8,913.1 1103.0,911.0 1103.3,912.7 1103.5,914.4 1103.8,918.0 1104.0,905.5 1104.3,917.1 1104.6,912.6 1104.8,914.3 1105.1,919.1 1105.3,918.0 1105.6,909.5 1105.9,914.6 1106.1,922.4 1106.4,920.4 1106.6,918.4 1106.9,914.9 1107.1,918.7 1107.4,916.4 1107.7,912.6 1107.9,910.8 1108.2,916.9 1108.4,916.3 1108.7,919.6 1108.9,912.8 1109.2,920.4 1109.5,913.3 1109.7,919.7 1110.0,916.9 1110.2,912.4 1110.5,910.9 1110.8,914.2 1111.0,913.6 1111.3,918.4 1111.5,911.8 1111.8,908.7 1112.0,914.5 1112.3,922.3 1112.6,921.1 1112.8,912.0 1113.1,913.4 1113.3,915.8 1113.6,911.8 1113.8,913.5 1114.1,913.3 1114.4,910.2 1114.6,911.9 1114.9,912.5 1115.1,915.3 1115.4,909.6 1115.7,914.8 1115.9,910.4 1116.2,911.1 1116.4,909.8 1116.7,923.9 1116.9,919.3 1117.2,919.6 1117.5,917.5 1117.7,913.3 1118.0,914.5 1118.2,915.4 1118.5,916.0 1118.8,916.5 1119.0,920.3 1119.3,904.5 1119.5,911.9 1119.8,916.8 1120.0,912.7 1120.3,913.4 1120.6,920.0 1120.8,914.8 1121.1,921.2 1121.3,913.8 1121.6,914.9 1121.8,909.7 1122.1,906.0 1122.4,912.3 1122.6,914.2 1122.9,912.5 1123.1,908.5 1123.4,916.5 1123.7,914.1 1123.9,913.9 1124.2,910.7 1124.4,920.4 1124.7,919.7 1124.9,915.0 1125.2,913.3 1125.5,914.8 1125.7,920.5 1126.0,923.3 1126.2,913.8 1126.5,912.0 1126.7,906.4 1127.0,923.2 1127.3,909.2 1127.5,917.1 1127.8,917.6 1128.0,918.9 1128.3,910.1 1128.6,907.1 1128.8,914.1 1129.1,915.2 1129.3,918.1 1129.6,906.8 1129.8,911.7 1130.1,912.4 1130.4,908.0 1130.6,912.8 1130.9,916.6 1131.1,913.3 1131.4,907.6 1131.7,914.8 1131.9,916.8 1132.2,915.5 1132.4,916.5 1132.7,906.7 1132.9,915.1 1133.2,915.7 1133.5,911.8 1133.7,913.0 1134.0,910.1 1134.2,918.2 1134.5,912.0 1134.7,909.4 1135.0,913.9 1135.3,913.6 1135.5,915.8 1135.8,909.8 1136.0,910.4 1136.3,914.6 1136.6,922.0 1136.8,914.9 1137.1,907.6 1137.3,913.7 1137.6,909.9 1137.8,900.2 1138.1,907.5 1138.4,910.7 1138.6,914.6 1138.9,918.2 1139.1,917.5 1139.4,916.1 1139.6,911.2 1139.9,913.5 1140.2,912.7 1140.4,918.5 1140.7,910.2 1140.9,910.6 1141.2,918.8 1141.5,915.1 1141.7,911.0 1142.0,913.4 1142.2,913.3 1142.5,913.5 1142.7,915.9 1143.0,914.2 1143.3,911.9 1143.5,910.6 1143.8,905.7 1144.0,910.9 1144.3,917.2 1144.6,913.5 1144.8,910.0 1145.1,911.6 1145.3,909.1 1145.6,913.7 1145.8,920.6 1146.1,919.8 1146.4,917.3 1146.6,915.6 1146.9,911.6 1147.1,907.5 1147.4,912.5 1147.6,910.6 1147.9,915.7 1148.2,913.0 1148.4,910.1 1148.7,914.2 1148.9,921.9 1149.2,908.7 1149.5,921.5 1149.7,914.7 1150.0,911.9 1150.2,909.3 1150.5,912.4 1150.7,913.1 1151.0,915.3 1151.3,915.1 1151.5,913.5 1151.8,909.5 1152.0,913.4 1152.3,910.3 1152.5,908.0 1152.8,915.7 1153.1,909.5 1153.3,907.3 1153.6,912.4 1153.8,904.3 1154.1,911.8 1154.4,913.8 1154.6,910.3 1154.9,913.9 1155.1,875.1 1155.4,872.6 1155.6,870.9 1155.9,869.9 1156.2,865.8 1156.4,867.6 1156.7,867.3 1156.9,868.8 1157.2,869.4 1157.5,866.0 1157.7,875.9 1158.0,865.5 1158.2,871.4 1158.5,874.3 1158.7,870.2 1159.0,867.9 1159.3,870.9 1159.5,878.7 1159.8,873.6 1160.0,870.2 1160.3,873.8 1160.5,870.9 1160.8,864.3 1161.1,873.0 1161.3,876.3 1161.6,876.9 1161.8,872.2 1162.1,866.9 1162.4,877.5 1162.6,872.2 1162.9,875.9 1163.1,877.6 1163.4,874.6 1163.6,873.1 1163.9,871.0 1164.2,871.9 1164.4,873.8 1164.7,872.0 1164.9,875.4 1165.2,866.2 1165.4,870.1 1165.7,873.9 1166.0,871.5 1166.2,872.2 1166.5,869.9 1166.7,877.3 1167.0,881.2 1167.3,870.7 1167.5,879.4 1167.8,869.1 1168.0,875.6 1168.3,867.1 1168.5,877.1 1168.8,875.3 1169.1,875.9 1169.3,880.3 1169.6,877.9 1169.8,875.4 1170.1,872.3 1170.4,875.9 1170.6,873.0 1170.9,874.1 1171.1,881.8 1171.4,879.5 1171.6,877.2 1171.9,878.6 1172.2,870.4 1172.4,876.7 1172.7,869.5 1172.9,873.7 1173.2,877.9 1173.4,878.0 1173.7,879.4 1174.0,877.2 1174.2,876.9 1174.5,876.7 1174.7,882.4 1175.0,882.0 1175.3,871.1 1175.5,877.5 1175.8,882.2 1176.0,876.0 1176.3,878.0 1176.5,874.8 1176.8,872.4 1177.1,877.8 1177.3,875.7 1177.6,876.7 1177.8,871.6 1178.1,872.8 1178.3,876.9 1178.6,875.7 1178.9,879.7 1179.1,873.3 1179.4,880.4 1179.6,879.9 1179.9,878.0 1180.2,880.3 1180.4,877.4 1180.7,875.7 1180.9,877.7 1181.2,872.8 1181.4,877.7 1181.7,881.1 1182.0,871.6 1182.2,880.8 1182.5,875.5 1182.7,876.7 1183.0,878.5 1183.3,879.2 1183.5,883.7 1183.8,877.7 1184.0,885.2 1184.3,878.6 1184.5,880.4 1184.8,881.2 1185.1,875.9 1185.3,874.2 1185.6,879.2 1185.8,881.6 1186.1,882.3 1186.3,877.5 1186.6,886.0 1186.9,878.6 1187.1,876.5 1187.4,883.9 1187.6,884.2 1187.9,875.7 1188.2,882.8 1188.4,874.6 1188.7,879.9 1188.9,888.9 1189.2,885.1 1189.4,885.5 1189.7,882.7 1190.0,876.9 1190.2,881.6 1190.5,882.1 1190.7,876.2 1191.0,881.2 1191.2,882.7 1191.5,881.4 1191.8,882.3 1192.0,879.8 1192.3,876.2 1192.5,880.9 1192.8,873.2 1193.1,878.0 1193.3,885.3 1193.6,888.1 1193.8,882.7 1194.1,871.5 1194.3,886.5 1194.6,883.4 1194.9,880.5 1195.1,884.3 1195.4,883.5 1195.6,876.6 1195.9,876.3 1196.2,885.6 1196.4,872.4 1196.7,884.0 1196.9,882.9 1197.2,885.6 1197.4,888.7 1197.7,887.1 1198.0,888.0 1198.2,885.2 1198.5,884.0 1198.7,886.3 1199.0,882.0 1199.2,878.5 1199.5,881.8 1199.8,875.8 1200.0,880.0 1200.3,890.5 1200.5,884.4 1200.8,881.6 1201.1,880.0 1201.3,875.3 1201.6,880.3 1201.8,879.4 1202.1,882.5 1202.3,882.9 1202.6,882.3 1202.9,875.0 1203.1,888.5 1203.4,884.5 1203.6,882.8 1203.9,881.5 1204.1,884.5 1204.4,887.8 1204.7,885.3 1204.9,878.3 1205.2,877.9 1205.4,873.5 1205.7,883.5 1206.0,885.8 1206.2,887.9 1206.5,883.6 1206.7,886.3 1207.0,879.4 1207.2,885.2 1207.5,882.6 1207.8,880.5 1208.0,876.5 1208.3,887.8 1208.5,874.3 1208.8,885.8 1209.1,880.1 1209.3,885.8 1209.6,881.2 1209.8,886.4 1210.1,882.6 1210.3,879.3 1210.6,881.5 1210.9,877.1 1211.1,884.7 1211.4,887.8 1211.6,885.4 1211.9,884.2 1212.1,888.9 1212.4,879.1 1212.7,886.1 1212.9,883.9 1213.2,882.0 1213.4,886.1 1213.7,879.4 1214.0,883.5 1214.2,885.4 1214.5,879.4 1214.7,883.2 1215.0,886.3 1215.2,888.0 1215.5,880.5 1215.8,887.9 1216.0,883.1 1216.3,884.7 1216.5,882.2 1216.8,887.5 1217.0,881.6 1217.3,885.6 1217.6,886.0 1217.8,887.6 1218.1,880.4 1218.3,887.7 1218.6,884.8 1218.9,890.5 1219.1,883.3 1219.4,882.5 1219.6,884.6 1219.9,883.6 1220.1,884.2 1220.4,879.8 1220.7,876.6 1220.9,879.1 1221.2,882.6 1221.4,886.7 1221.7,883.8 1222.0,881.2 1222.2,884.5 1222.5,885.4 1222.7,894.8 1223.0,890.3 1223.2,886.0 1223.5,879.4 1223.8,884.6 1224.0,884.1 1224.3,887.6 1224.5,893.9 1224.8,885.2 1225.0,877.6 1225.3,885.0 1225.6,878.8 1225.8,888.9 1226.1,890.0 1226.3,886.9 1226.6,879.7 1226.9,885.0 1227.1,890.6 1227.4,881.7 1227.6,883.4 1227.9,886.8 1228.1,887.8 1228.4,886.2 1228.7,887.3 1228.9,886.8 1229.2,883.6 1229.4,885.7 1229.7,887.2 1229.9,881.7 1230.2,886.9 1230.5,886.5 1230.7,888.0 1231.0,887.6 1231.2,882.0 1231.5,881.2 1231.8,887.3 1232.0,885.7 1232.3,886.7 1232.5,884.1 1232.8,881.3 1233.0,887.5 1233.3,885.9 1233.6,891.4 1233.8,890.9 1234.1,890.9 1234.3,890.5 1234.6,882.7 1234.9,878.2 1235.1,884.2 1235.4,881.8 1235.6,881.4 1235.9,889.3 1236.1,880.3 1236.4,890.4 1236.7,891.1 1236.9,896.4 1237.2,891.0 1237.4,895.2 1237.7,884.3 1237.9,884.2 1238.2,890.8 1238.5,881.7 1238.7,896.1 1239.0,885.9 1239.2,879.2 1239.5,894.5 1239.8,882.6 1240.0,896.7 1240.3,881.2 1240.5,883.8 1240.8,888.1 1241.0,887.3 1241.3,880.9 1241.6,887.7 1241.8,888.0 1242.1,889.1 1242.3,880.9 1242.6,885.0 1242.8,887.0 1243.1,890.6 1243.4,888.1 1243.6,886.1 1243.9,885.8 1244.1,893.4 1244.4,884.3 1244.7,888.8 1244.9,878.9 1245.2,894.4 1245.4,889.5 1245.7,880.6 1245.9,890.1 1246.2,893.3 1246.5,891.0 1246.7,888.1 1247.0,891.2 1247.2,884.9 1247.5,886.8 1247.8,886.5 1248.0,888.2 1248.3,883.8 1248.5,893.5 1248.8,887.5 1249.0,883.7 1249.3,887.1 1249.6,889.5 1249.8,888.2 1250.1,892.5 1250.3,886.7 1250.6,885.1 1250.8,890.2 1251.1,893.3 1251.4,884.3 1251.6,881.9 1251.9,885.7 1252.1,888.0 1252.4,884.2 1252.7,889.0 1252.9,884.9 1253.2,891.9 1253.4,883.6 1253.7,884.7 1253.9,888.7 1254.2,891.1 1254.5,892.1 1254.7,885.7 1255.0,888.6 1255.2,890.7 1255.5,894.2 1255.7,885.0 1256.0,883.6 1256.3,890.5 1256.5,887.6 1256.8,894.0 1257.0,888.7 1257.3,890.0 1257.6,885.6 1257.8,889.8 1258.1,893.6 1258.3,887.8 1258.6,884.0 1258.8,892.3 1259.1,887.6 1259.4,889.1 1259.6,886.0 1259.9,892.6 1260.1,885.9 1260.4,887.0 1260.7,889.0 1260.9,888.1 1261.2,880.0 1261.4,890.9 1261.7,884.3 1261.9,890.1 1262.2,887.5 1262.5,888.6 1262.7,886.1 1263.0,884.9 1263.2,889.7 1263.5,890.0 1263.7,893.2 1264.0,891.3 1264.3,886.4 1264.5,893.9 1264.8,898.1 1265.0,892.1 1265.3,888.5 1265.6,885.4 1265.8,889.7 1266.1,883.6 1266.3,892.5 1266.6,887.8 1266.8,887.1 1267.1,890.4 1267.4,884.5 1267.6,882.5 1267.9,887.7 1268.1,894.3 1268.4,886.1 1268.6,893.0 1268.9,882.2 1269.2,889.3 1269.4,891.6 1269.7,896.7 1269.9,882.5 1270.2,889.3 1270.5,886.0 1270.7,890.9 1271.0,887.4 1271.2,890.1 1271.5,886.7 1271.7,887.5 1272.0,891.3 1272.3,895.7 1272.5,890.6 1272.8,890.6 1273.0,887.9 1273.3,896.1 1273.6,882.1 1273.8,881.9 1274.1,886.7 1274.3,891.6 1274.6,893.7 1274.8,892.2 1275.1,892.9 1275.4,890.6 1275.6,888.1 1275.9,885.8 1276.1,891.8 1276.4,882.3 1276.6,891.7 1276.9,893.0 1277.2,887.6 1277.4,888.3 1277.7,887.9 1277.9,892.8 1278.2,890.8 1278.5,887.5 1278.7,891.2 1279.0,896.2 1279.2,891.3 1279.5,890.7 1279.7,888.6 1280.0,882.7 1280.3,890.3 1280.5,890.6 1280.8,889.1 1281.0,895.0 1281.3,889.4 1281.5,889.7 1281.8,891.1 1282.1,892.5 1282.3,883.3 1282.6,891.5 1282.8,895.4 1283.1,886.0 1283.4,892.0 1283.6,888.5 1283.9,886.6 1284.1,891.6 1284.4,890.1 1284.6,877.9 1284.9,888.2 1285.2,893.8 1285.4,888.3 1285.7,887.7 1285.9,889.2 1286.2,888.9 1286.5,893.6 1286.7,887.3 1287.0,886.1 1287.2,892.4 1287.5,894.7 1287.7,893.5 1288.0,894.1 1288.3,888.2 1288.5,885.0 1288.8,888.0 1289.0,890.7 1289.3,884.1 1289.5,889.7 1289.8,893.2 1290.1,888.2 1290.3,898.8 1290.6,893.9 1290.8,886.1 1291.1,886.5 1291.4,888.2 1291.6,893.8 1291.9,894.6 1292.1,888.8 1292.4,891.7 1292.6,897.3 1292.9,893.1 1293.2,884.7 1293.4,886.8 1293.7,887.5 1293.9,884.3 1294.2,894.5 1294.4,888.6 1294.7,888.6 1295.0,887.9 1295.2,892.4 1295.5,893.4 1295.7,893.9 1296.0,896.1 1296.3,887.6 1296.5,897.7 1296.8,900.9 1297.0,889.2 1297.3,889.9 1297.5,893.7 1297.8,896.2 1298.1,890.3 1298.3,888.2 1298.6,899.6 1298.8,889.4 1299.1,881.9 1299.4,893.5 1299.6,895.4 1299.9,898.2 1300.1,898.5 1300.4,901.1 1300.6,887.0 1300.9,887.6 1301.2,885.7 1301.4,898.3 1301.7,889.8 1301.9,884.9 1302.2,883.4 1302.4,892.1 1302.7,889.9 1303.0,892.9 1303.2,888.2 1303.5,888.7 1303.7,893.5 1304.0,890.9 1304.3,894.0 1304.5,891.2 1304.8,890.6 1305.0,893.2 1305.3,890.4 1305.5,892.4 1305.8,893.5 1306.1,889.7 1306.3,891.3 1306.6,892.2 1306.8,894.5 1307.1,892.8 1307.3,892.8 1307.6,893.7 1307.9,890.6 1308.1,893.3 1308.4,888.9 1308.6,884.6 1308.9,893.5 1309.2,884.1 1309.4,891.3 1309.7,898.0 1309.9,894.8 1310.2,887.9 1310.4,894.9 1310.7,892.9 1311.0,888.6 1311.2,891.6 1311.5,889.9 1311.7,890.8 1312.0,893.3 1312.3,885.9 1312.5,895.4 1312.8,900.1 1313.0,891.4 1313.3,888.2 1313.5,890.5 1313.8,901.8 1314.1,888.1" fill="none" stroke="#d9604c" stroke-width="4.0" stroke-linejoin="round" />
<text x="1694" y="642" font-size="34" fill="#000" text-anchor="start" font-weight="bold" stroke="#000" stroke-width="0.7">f</text>
<text x="1915.5" y="660.7" font-size="28" fill="#000" stroke="#000" stroke-width="0.35">Δ<tspan font-style="italic">m</tspan><tspan font-size="20" dy="8">s</tspan><tspan dy="-8"> = 1</tspan></text>
<line x1="1813.9" y1="675.7" x2="1813.9" y2="1054.2" stroke="#000" stroke-width="2.4" />
<line x1="1812.5" y1="1052.8" x2="2136.5" y2="1052.8" stroke="#000" stroke-width="2.4" />
<line x1="1800" y1="713.7" x2="1813.9" y2="713.7" stroke="#000" stroke-width="2.4" />
<text x="1792" y="723.7" font-size="28" fill="#000" text-anchor="end"  stroke="#000" stroke-width="0.35">0</text>
<line x1="1800" y1="844.7" x2="1813.9" y2="844.7" stroke="#000" stroke-width="2.4" />
<text x="1792" y="854.7" font-size="28" fill="#000" text-anchor="end"  stroke="#000" stroke-width="0.35">−5</text>
<line x1="1800" y1="975.7" x2="1813.9" y2="975.7" stroke="#000" stroke-width="2.4" />
<text x="1792" y="985.7" font-size="28" fill="#000" text-anchor="end"  stroke="#000" stroke-width="0.35">−10</text>
<line x1="1882" y1="1052.8" x2="1882" y2="1066.5" stroke="#000" stroke-width="2.4" />
<text x="1882" y="1098.5" font-size="28" fill="#000" text-anchor="middle"  stroke="#000" stroke-width="0.35">300</text>
<line x1="1997.6" y1="1052.8" x2="1997.6" y2="1066.5" stroke="#000" stroke-width="2.4" />
<text x="1997.6" y="1098.5" font-size="28" fill="#000" text-anchor="middle"  stroke="#000" stroke-width="0.35">350</text>
<line x1="2111.3" y1="1052.8" x2="2111.3" y2="1066.5" stroke="#000" stroke-width="2.4" />
<text x="2111.3" y="1098.5" font-size="28" fill="#000" text-anchor="middle"  stroke="#000" stroke-width="0.35">400</text>
<text x="1864.81" y="1143.7" font-size="28" fill="#000" textLength="248.97" lengthAdjust="spacingAndGlyphs"  stroke="#000" stroke-width="0.35">Magnetic field (mT)</text>
<text x="1711" y="861" font-size="28" fill="#000" text-anchor="middle" transform="rotate(-90 1711 861) translate(1711 861) scale(1.031 1) translate(-1711 -861)" stroke="#000" stroke-width="0.35">ΔPL/PL (10<tspan font-size="20" dy="-9.5">−4</tspan><tspan dy="9.5"> %)</tspan></text>
<line x1="1816" y1="713.7" x2="2134" y2="713.7" stroke="#bdbdbd" stroke-width="2" />
<text x="1993" y="1028.2" font-size="28" fill="#000" transform="translate(1994.1 0) scale(1.0576 1) translate(-1996 0)" stroke="#000" stroke-width="0.35"><tspan font-style="italic">T</tspan> = 293 K</text>
<polyline points="1815.0,726.2 1815.2,711.9 1815.5,706.8 1815.8,699.7 1816.0,717.3 1816.2,731.1 1816.5,720.7 1816.8,724.8 1817.0,729.3 1817.2,712.9 1817.5,741.2 1817.8,713.0 1818.0,723.8 1818.2,741.2 1818.5,719.6 1818.8,721.6 1819.0,716.3 1819.2,723.6 1819.5,702.4 1819.8,715.2 1820.0,735.3 1820.2,722.6 1820.5,718.8 1820.8,724.1 1821.0,724.4 1821.2,722.2 1821.5,725.9 1821.8,706.7 1822.0,726.1 1822.2,715.2 1822.5,727.8 1822.8,720.9 1823.0,712.5 1823.2,720.5 1823.5,712.5 1823.8,729.9 1824.0,720.9 1824.2,728.6 1824.5,711.7 1824.8,735.2 1825.0,718.7 1825.2,733.1 1825.5,728.7 1825.8,711.9 1826.0,724.2 1826.2,716.8 1826.5,725.0 1826.8,733.8 1827.0,727.4 1827.2,730.7 1827.5,711.5 1827.8,723.3 1828.0,724.7 1828.2,731.0 1828.5,716.3 1828.8,726.6 1829.0,725.4 1829.2,708.6 1829.5,712.8 1829.8,725.6 1830.0,711.7 1830.2,711.3 1830.5,729.6 1830.8,724.4 1831.0,719.9 1831.2,722.9 1831.5,718.5 1831.8,717.4 1832.0,718.1 1832.2,725.4 1832.5,733.4 1832.8,718.1 1833.0,721.5 1833.2,720.3 1833.5,711.4 1833.8,724.4 1834.0,729.7 1834.2,715.0 1834.5,729.5 1834.8,717.4 1835.0,732.2 1835.2,732.8 1835.5,719.1 1835.8,705.2 1836.0,719.5 1836.2,710.5 1836.5,711.2 1836.8,720.4 1837.0,734.3 1837.2,721.8 1837.5,720.7 1837.8,706.7 1838.0,717.4 1838.2,704.7 1838.5,727.2 1838.8,718.2 1839.0,722.4 1839.2,722.6 1839.5,721.2 1839.8,731.0 1840.0,727.1 1840.2,718.9 1840.5,724.5 1840.8,728.0 1841.0,735.2 1841.2,725.2 1841.5,736.2 1841.8,718.7 1842.0,722.0 1842.2,711.3 1842.5,731.3 1842.8,715.5 1843.0,715.7 1843.2,731.9 1843.5,720.2 1843.8,718.5 1844.0,733.3 1844.2,723.6 1844.5,733.3 1844.8,722.0 1845.0,731.9 1845.2,735.1 1845.5,726.6 1845.8,741.5 1846.0,722.8 1846.2,724.5 1846.5,727.2 1846.8,735.3 1847.0,724.3 1847.2,723.1 1847.5,729.2 1847.8,737.9 1848.0,723.7 1848.2,716.5 1848.5,726.5 1848.8,733.1 1849.0,723.2 1849.2,729.1 1849.5,712.1 1849.8,728.5 1850.0,729.3 1850.2,733.9 1850.5,731.3 1850.8,735.5 1851.0,720.4 1851.2,734.8 1851.5,715.0 1851.8,724.2 1852.0,739.0 1852.2,737.0 1852.5,713.9 1852.8,735.0 1853.0,726.4 1853.2,723.5 1853.5,732.1 1853.8,731.6 1854.0,742.6 1854.2,712.2 1854.5,727.2 1854.8,729.8 1855.0,715.4 1855.2,741.4 1855.5,746.6 1855.8,726.2 1856.0,735.0 1856.2,729.6 1856.5,734.3 1856.8,726.3 1857.0,739.4 1857.2,722.4 1857.5,744.3 1857.8,735.8 1858.0,753.5 1858.2,718.8 1858.5,732.3 1858.8,722.2 1859.0,732.2 1859.2,737.3 1859.5,725.8 1859.8,721.5 1860.0,719.0 1860.2,736.0 1860.5,745.2 1860.8,744.4 1861.0,734.8 1861.2,726.4 1861.5,731.7 1861.8,722.0 1862.0,721.5 1862.2,744.4 1862.5,732.9 1862.8,738.2 1863.0,733.3 1863.2,747.2 1863.5,748.3 1863.8,729.4 1864.0,733.0 1864.2,730.5 1864.5,747.8 1864.8,747.3 1865.0,734.2 1865.2,756.6 1865.5,737.2 1865.8,726.7 1866.0,719.8 1866.2,736.2 1866.5,740.3 1866.8,732.6 1867.0,740.9 1867.2,748.2 1867.5,737.5 1867.8,745.4 1868.0,752.5 1868.2,742.6 1868.5,733.5 1868.8,742.3 1869.0,743.3 1869.2,757.2 1869.5,735.2 1869.8,725.7 1870.0,741.8 1870.2,742.1 1870.5,735.8 1870.8,744.4 1871.0,742.4 1871.2,750.2 1871.5,732.7 1871.8,734.0 1872.0,739.9 1872.2,735.9 1872.5,751.3 1872.8,745.5 1873.0,740.4 1873.2,753.9 1873.5,745.2 1873.8,749.6 1874.0,748.0 1874.2,739.9 1874.5,739.5 1874.8,741.5 1875.0,732.2 1875.2,738.7 1875.5,749.2 1875.8,744.6 1876.0,729.9 1876.2,762.5 1876.5,733.4 1876.8,747.8 1877.0,748.8 1877.2,753.6 1877.5,735.4 1877.8,743.1 1878.0,741.4 1878.2,757.9 1878.5,746.6 1878.8,748.9 1879.0,748.2 1879.2,760.6 1879.5,749.7 1879.8,751.6 1880.0,736.2 1880.2,750.3 1880.5,733.7 1880.8,752.8 1881.0,746.1 1881.2,737.3 1881.5,735.2 1881.8,744.4 1882.0,746.4 1882.2,738.5 1882.5,742.8 1882.8,743.1 1883.0,741.4 1883.2,744.4 1883.5,748.5 1883.8,757.5 1884.0,752.0 1884.2,741.8 1884.5,760.7 1884.8,757.1 1885.0,744.9 1885.2,756.0 1885.5,742.8 1885.8,741.0 1886.0,741.5 1886.2,761.7 1886.5,749.1 1886.8,750.8 1887.0,748.8 1887.2,744.9 1887.5,752.7 1887.8,754.5 1888.0,765.7 1888.2,741.7 1888.5,762.3 1888.8,755.0 1889.0,734.5 1889.2,757.9 1889.5,763.5 1889.8,759.2 1890.0,752.0 1890.2,751.4 1890.5,733.1 1890.8,753.0 1891.0,751.9 1891.2,742.5 1891.5,752.3 1891.8,745.0 1892.0,770.2 1892.2,740.5 1892.5,743.3 1892.8,723.8 1893.0,747.7 1893.2,752.2 1893.5,751.3 1893.8,745.8 1894.0,758.9 1894.2,753.5 1894.5,761.8 1894.8,750.7 1895.0,736.7 1895.2,750.6 1895.5,743.3 1895.8,759.2 1896.0,746.9 1896.2,750.1 1896.5,752.1 1896.8,739.3 1897.0,749.2 1897.2,760.1 1897.5,747.8 1897.8,751.3 1898.0,754.3 1898.2,747.2 1898.5,750.5 1898.8,756.9 1899.0,750.0 1899.2,753.9 1899.5,752.4 1899.8,744.9 1900.0,743.0 1900.2,771.3 1900.5,766.4 1900.8,753.7 1901.0,763.1 1901.2,764.7 1901.5,763.7 1901.8,752.5 1902.0,743.6 1902.2,745.3 1902.5,754.3 1902.8,768.2 1903.0,770.2 1903.2,755.0 1903.5,754.4 1903.8,767.9 1904.0,775.4 1904.2,750.1 1904.5,762.3 1904.8,759.7 1905.0,756.0 1905.2,756.2 1905.5,756.3 1905.8,759.4 1906.0,746.4 1906.2,759.9 1906.5,766.9 1906.8,766.8 1907.0,767.4 1907.2,763.7 1907.5,762.7 1907.8,778.0 1908.0,760.0 1908.2,763.1 1908.5,772.7 1908.8,762.5 1909.0,751.4 1909.2,757.9 1909.5,759.2 1909.8,761.8 1910.0,759.5 1910.2,772.1 1910.5,769.9 1910.8,768.2 1911.0,760.9 1911.2,773.3 1911.5,773.3 1911.8,783.8 1912.0,760.0 1912.2,764.6 1912.5,777.6 1912.8,756.7 1913.0,768.5 1913.2,768.3 1913.5,767.1 1913.8,758.8 1914.0,767.5 1914.2,754.6 1914.5,777.8 1914.8,763.6 1915.0,769.4 1915.2,768.1 1915.5,770.1 1915.8,769.7 1916.0,772.5 1916.2,766.0 1916.5,769.6 1916.8,760.1 1917.0,760.8 1917.2,762.7 1917.5,761.5 1917.8,758.7 1918.0,765.3 1918.2,776.2 1918.5,774.6 1918.8,767.7 1919.0,774.2 1919.2,775.1 1919.5,792.9 1919.8,759.3 1920.0,775.5 1920.2,757.1 1920.5,785.0 1920.8,772.9 1921.0,779.0 1921.2,777.4 1921.5,782.1 1921.8,755.7 1922.0,767.2 1922.2,778.2 1922.5,766.6 1922.8,783.2 1923.0,794.9 1923.2,768.3 1923.5,776.2 1923.8,785.7 1924.0,796.2 1924.2,789.8 1924.5,787.9 1924.8,774.7 1925.0,782.8 1925.2,784.1 1925.5,778.3 1925.8,787.5 1926.0,781.7 1926.2,781.0 1926.5,803.5 1926.8,784.3 1927.0,802.2 1927.2,783.3 1927.5,786.4 1927.8,776.9 1928.0,783.0 1928.2,801.9 1928.5,788.9 1928.8,772.2 1929.0,801.8 1929.2,782.5 1929.5,786.9 1929.8,790.6 1930.0,775.3 1930.2,811.7 1930.5,803.3 1930.8,789.9 1931.0,796.2 1931.2,791.1 1931.5,788.9 1931.8,792.5 1932.0,782.6 1932.2,791.2 1932.5,789.7 1932.8,810.6 1933.0,781.5 1933.2,804.6 1933.5,799.7 1933.8,794.7 1934.0,788.0 1934.2,808.4 1934.5,805.2 1934.8,792.1 1935.0,790.6 1935.2,793.7 1935.5,807.5 1935.8,783.9 1936.0,792.1 1936.2,800.9 1936.5,779.1 1936.8,790.1 1937.0,800.1 1937.2,786.6 1937.5,789.2 1937.8,776.7 1938.0,792.9 1938.2,778.9 1938.5,785.0 1938.8,790.5 1939.0,782.2 1939.2,793.7 1939.5,791.7 1939.8,789.0 1940.0,792.6 1940.2,782.1 1940.5,764.4 1940.8,789.5 1941.0,788.1 1941.2,776.7 1941.5,772.9 1941.8,789.3 1942.0,774.7 1942.2,774.8 1942.5,773.5 1942.8,796.7 1943.0,770.9 1943.2,757.3 1943.5,777.5 1943.8,770.2 1944.0,764.7 1944.2,781.4 1944.5,776.4 1944.8,789.2 1945.0,779.5 1945.2,793.2 1945.5,792.2 1945.8,784.8 1946.0,791.9 1946.2,801.5 1946.5,792.7 1946.8,775.3 1947.0,789.0 1947.2,790.8 1947.5,800.5 1947.8,789.5 1948.0,800.9 1948.2,791.0 1948.5,793.0 1948.8,791.5 1949.0,794.4 1949.2,793.8 1949.5,798.6 1949.8,790.0 1950.0,788.3 1950.2,797.2 1950.5,799.9 1950.8,795.9 1951.0,803.5 1951.2,803.7 1951.5,816.0 1951.8,789.9 1952.0,819.9 1952.2,784.4 1952.5,789.3 1952.8,807.3 1953.0,797.6 1953.2,803.8 1953.5,803.3 1953.8,796.6 1954.0,796.8 1954.2,805.9 1954.5,813.0 1954.8,815.8 1955.0,812.9 1955.2,809.8 1955.5,824.0 1955.8,796.4 1956.0,816.5 1956.2,828.3 1956.5,832.4 1956.8,830.1 1957.0,832.6 1957.2,831.2 1957.5,824.7 1957.8,805.9 1958.0,821.8 1958.2,825.0 1958.5,842.0 1958.8,826.1 1959.0,828.0 1959.2,837.8 1959.5,825.2 1959.8,835.0 1960.0,840.6 1960.2,834.4 1960.5,837.8 1960.8,816.1 1961.0,830.2 1961.2,843.5 1961.5,844.7 1961.8,856.2 1962.0,867.6 1962.2,879.1 1962.5,890.6 1962.8,902.0 1963.0,913.5 1963.2,924.9 1963.5,936.4 1963.8,947.2 1964.0,958.0 1964.2,968.7 1964.5,979.5 1964.8,990.3 1965.0,1001.1 1965.2,1011.9 1965.5,1022.6 1965.8,1033.4 1966.0,1035.0 1966.2,1022.6 1966.5,1010.3 1966.8,998.0 1967.0,985.7 1967.2,973.4 1967.5,961.0 1967.8,948.7 1968.0,936.4 1968.2,928.4 1968.5,920.3 1968.8,912.3 1969.0,904.2 1969.2,896.2 1969.5,888.2 1969.8,880.1 1970.0,872.1 1970.2,865.2 1970.5,863.0 1970.8,860.9 1971.0,862.5 1971.2,848.5 1971.5,852.0 1971.8,838.3 1972.0,843.9 1972.2,834.1 1972.5,849.5 1972.8,819.9 1973.0,843.3 1973.2,833.7 1973.5,834.8 1973.8,846.3 1974.0,829.8 1974.2,824.3 1974.5,827.8 1974.8,831.5 1975.0,816.2 1975.2,835.8 1975.5,820.6 1975.8,813.9 1976.0,809.2 1976.2,811.4 1976.5,815.3 1976.8,817.4 1977.0,807.7 1977.2,800.9 1977.5,804.5 1977.8,785.8 1978.0,812.2 1978.2,808.7 1978.5,798.9 1978.8,805.5 1979.0,790.0 1979.2,812.9 1979.5,795.4 1979.8,791.9 1980.0,812.7 1980.2,785.9 1980.5,796.9 1980.8,785.2 1981.0,786.7 1981.2,787.9 1981.5,784.3 1981.8,800.7 1982.0,796.5 1982.2,781.2 1982.5,803.2 1982.8,783.4 1983.0,781.2 1983.2,785.0 1983.5,771.6 1983.8,790.8 1984.0,770.4 1984.2,766.2 1984.5,784.9 1984.8,766.7 1985.0,771.2 1985.2,762.7 1985.5,768.9 1985.8,773.2 1986.0,751.5 1986.2,771.0 1986.5,764.4 1986.8,782.9 1987.0,796.8 1987.2,774.8 1987.5,775.0 1987.8,778.7 1988.0,778.5 1988.2,756.8 1988.5,757.4 1988.8,764.2 1989.0,756.1 1989.2,764.8 1989.5,768.2 1989.8,760.1 1990.0,770.7 1990.2,778.7 1990.5,766.5 1990.8,769.5 1991.0,765.3 1991.2,764.5 1991.5,760.5 1991.8,755.0 1992.0,769.1 1992.2,773.3 1992.5,763.4 1992.8,764.4 1993.0,751.5 1993.2,760.9 1993.5,765.2 1993.8,761.5 1994.0,762.5 1994.2,753.2 1994.5,750.6 1994.8,759.1 1995.0,773.6 1995.2,757.4 1995.5,747.6 1995.8,754.5 1996.0,758.0 1996.2,769.8 1996.5,768.4 1996.8,752.2 1997.0,750.2 1997.2,756.3 1997.5,758.1 1997.8,749.4 1998.0,765.8 1998.2,753.6 1998.5,759.2 1998.8,755.1 1999.0,760.8 1999.2,755.2 1999.5,758.0 1999.8,766.1 2000.0,757.4 2000.2,767.4 2000.5,744.2 2000.8,753.0 2001.0,745.6 2001.2,742.1 2001.5,753.6 2001.8,769.8 2002.0,755.5 2002.2,761.7 2002.5,736.8 2002.8,754.7 2003.0,742.8 2003.2,754.2 2003.5,760.7 2003.8,747.7 2004.0,760.7 2004.2,744.6 2004.5,751.8 2004.8,745.3 2005.0,751.1 2005.2,748.8 2005.5,731.2 2005.8,746.5 2006.0,745.1 2006.2,770.0 2006.5,729.2 2006.8,749.3 2007.0,755.3 2007.2,771.7 2007.5,758.9 2007.8,747.3 2008.0,759.7 2008.2,746.1 2008.5,745.4 2008.8,743.9 2009.0,743.3 2009.2,759.2 2009.5,732.1 2009.8,732.7 2010.0,753.6 2010.2,749.3 2010.5,752.3 2010.8,742.6 2011.0,750.2 2011.2,742.2 2011.5,739.7 2011.8,740.0 2012.0,744.7 2012.2,743.8 2012.5,739.6 2012.8,756.2 2013.0,746.3 2013.2,739.3 2013.5,730.9 2013.8,741.1 2014.0,727.7 2014.2,733.7 2014.5,731.3 2014.8,728.5 2015.0,742.1 2015.2,721.7 2015.5,752.5 2015.8,743.6 2016.0,736.0 2016.2,734.3 2016.5,745.5 2016.8,738.3 2017.0,753.9 2017.2,737.7 2017.5,730.9 2017.8,726.6 2018.0,737.7 2018.2,747.2 2018.5,727.9 2018.8,749.0 2019.0,745.2 2019.2,735.3 2019.5,748.7 2019.8,714.2 2020.0,719.3 2020.2,739.8 2020.5,740.9 2020.8,740.4 2021.0,736.7 2021.2,724.5 2021.5,741.5 2021.8,733.7 2022.0,744.1 2022.2,738.3 2022.5,726.5 2022.8,741.5 2023.0,743.0 2023.2,742.8 2023.5,729.9 2023.8,726.9 2024.0,742.5 2024.2,735.1 2024.5,734.5 2024.8,743.9 2025.0,744.2 2025.2,739.5 2025.5,733.1 2025.8,747.7 2026.0,725.9 2026.2,734.6 2026.5,737.3 2026.8,722.6 2027.0,728.2 2027.2,741.7 2027.5,733.4 2027.8,724.9 2028.0,748.1 2028.2,735.3 2028.5,734.5 2028.8,749.2 2029.0,720.8 2029.2,728.7 2029.5,725.3 2029.8,744.4 2030.0,725.9 2030.2,753.0 2030.5,736.8 2030.8,735.2 2031.0,740.9 2031.2,730.5 2031.5,724.5 2031.8,723.3 2032.0,732.2 2032.2,723.4 2032.5,732.9 2032.8,726.1 2033.0,729.7 2033.2,730.7 2033.5,744.9 2033.8,751.0 2034.0,747.3 2034.2,730.4 2034.5,725.8 2034.8,740.9 2035.0,743.3 2035.2,740.0 2035.5,726.8 2035.8,734.5 2036.0,729.5 2036.2,740.6 2036.5,739.6 2036.8,733.5 2037.0,727.9 2037.2,746.4 2037.5,733.0 2037.8,738.4 2038.0,736.0 2038.2,737.9 2038.5,741.1 2038.8,728.0 2039.0,727.0 2039.2,736.0 2039.5,709.6 2039.8,729.9 2040.0,726.2 2040.2,736.5 2040.5,733.0 2040.8,728.4 2041.0,719.9 2041.2,728.2 2041.5,726.9 2041.8,730.0 2042.0,731.2 2042.2,723.1 2042.5,733.6 2042.8,724.3 2043.0,732.3 2043.2,731.1 2043.5,739.3 2043.8,728.3 2044.0,742.0 2044.2,725.0 2044.5,720.4 2044.8,733.3 2045.0,717.1 2045.2,730.7 2045.5,730.7 2045.8,728.9 2046.0,732.5 2046.2,728.8 2046.5,737.9 2046.8,725.8 2047.0,709.9 2047.2,723.4 2047.5,733.6 2047.8,734.8 2048.0,732.1 2048.2,726.5 2048.5,718.2 2048.8,739.4 2049.0,721.0 2049.2,716.5 2049.5,705.0 2049.8,742.1 2050.0,725.6 2050.2,709.7 2050.5,732.9 2050.8,731.1 2051.0,711.0 2051.2,732.0 2051.5,725.4 2051.8,731.0 2052.0,736.8 2052.2,721.4 2052.5,743.6 2052.8,724.0 2053.0,719.7 2053.2,734.9 2053.5,718.9 2053.8,721.6 2054.0,731.5 2054.2,716.8 2054.5,712.7 2054.8,726.5 2055.0,723.8 2055.2,718.9 2055.5,731.7 2055.8,713.4 2056.0,729.9 2056.2,714.1 2056.5,727.2 2056.8,712.6 2057.0,728.5 2057.2,722.3 2057.5,719.1 2057.8,723.2 2058.0,721.3 2058.2,729.5 2058.5,716.6 2058.8,725.9 2059.0,719.4 2059.2,716.7 2059.5,717.5 2059.8,712.3 2060.0,724.5 2060.2,722.4 2060.5,724.5 2060.8,707.7 2061.0,717.5 2061.2,734.0 2061.5,731.5 2061.8,720.1 2062.0,721.2 2062.2,722.8 2062.5,730.2 2062.8,733.6 2063.0,723.6 2063.2,723.3 2063.5,720.2 2063.8,723.9 2064.0,736.2 2064.2,715.4 2064.5,726.5 2064.8,711.2 2065.0,711.7 2065.2,706.6 2065.5,715.6 2065.8,733.2 2066.0,734.5 2066.2,727.3 2066.5,720.2 2066.8,729.5 2067.0,711.4 2067.2,708.2 2067.5,712.7 2067.8,718.3 2068.0,704.5 2068.2,713.2 2068.5,734.2 2068.8,718.1 2069.0,716.3 2069.2,714.1 2069.5,725.6 2069.8,725.0 2070.0,720.1 2070.2,717.9 2070.5,700.9 2070.8,706.5 2071.0,715.5 2071.2,714.0 2071.5,716.1 2071.8,714.6 2072.0,733.8 2072.2,728.1 2072.5,709.1 2072.8,724.7 2073.0,721.6 2073.2,717.9 2073.5,716.0 2073.8,721.2 2074.0,733.8 2074.2,713.4 2074.5,716.5 2074.8,716.9 2075.0,703.5 2075.2,717.9 2075.5,710.8 2075.8,720.0 2076.0,721.2 2076.2,733.0 2076.5,715.8 2076.8,715.3 2077.0,723.9 2077.2,734.5 2077.5,719.2 2077.8,721.8 2078.0,722.5 2078.2,721.9 2078.5,713.3 2078.8,711.0 2079.0,711.7 2079.2,714.3 2079.5,720.0 2079.8,710.0 2080.0,710.8 2080.2,717.2 2080.5,716.0 2080.8,717.7 2081.0,706.5 2081.2,732.9 2081.5,715.1 2081.8,714.7 2082.0,709.6 2082.2,720.5 2082.5,725.2 2082.8,716.3 2083.0,714.5 2083.2,714.3 2083.5,735.1 2083.8,723.0 2084.0,712.7 2084.2,717.6 2084.5,725.1 2084.8,717.5 2085.0,718.7 2085.2,717.6 2085.5,714.5 2085.8,720.8 2086.0,729.7 2086.2,721.5 2086.5,713.5 2086.8,709.0 2087.0,715.3 2087.2,711.2 2087.5,708.7 2087.8,721.1 2088.0,718.3 2088.2,724.7 2088.5,719.7 2088.8,712.4 2089.0,723.4 2089.2,718.9 2089.5,727.2 2089.8,707.3 2090.0,712.6 2090.2,716.0 2090.5,728.4 2090.8,719.3 2091.0,705.8 2091.2,707.7 2091.5,719.7 2091.8,702.3 2092.0,709.4 2092.2,713.9 2092.5,712.0 2092.8,717.3 2093.0,721.5 2093.2,717.0 2093.5,698.4 2093.8,725.6 2094.0,723.2 2094.2,707.7 2094.5,709.9 2094.8,703.3 2095.0,725.9 2095.2,710.4 2095.5,717.7 2095.8,718.2 2096.0,724.7 2096.2,715.1 2096.5,711.2 2096.8,719.1 2097.0,722.1 2097.2,709.6 2097.5,713.3 2097.8,701.4 2098.0,725.6 2098.2,708.6 2098.5,722.2 2098.8,721.3 2099.0,720.5 2099.2,722.0 2099.5,707.6 2099.8,715.9 2100.0,708.4 2100.2,713.2 2100.5,708.2 2100.8,734.0 2101.0,716.3 2101.2,722.8 2101.5,709.1 2101.8,729.5 2102.0,713.9 2102.2,713.3 2102.5,712.4 2102.8,702.1 2103.0,689.8 2103.2,716.6 2103.5,706.1 2103.8,712.9 2104.0,731.5 2104.2,712.4 2104.5,731.7 2104.8,717.6 2105.0,705.8 2105.2,719.8 2105.5,724.2 2105.8,721.5 2106.0,709.2 2106.2,706.0 2106.5,725.7 2106.8,730.6 2107.0,729.6 2107.2,712.1 2107.5,713.2 2107.8,717.4 2108.0,724.3 2108.2,718.9 2108.5,718.9 2108.8,715.4 2109.0,694.4 2109.2,705.2 2109.5,716.7 2109.8,702.5 2110.0,732.5 2110.2,708.8 2110.5,721.1 2110.8,723.4 2111.0,725.1 2111.2,705.9 2111.5,714.1 2111.8,728.4 2112.0,716.3 2112.2,722.6 2112.5,695.3 2112.8,718.9 2113.0,717.0 2113.2,714.6 2113.5,700.8 2113.8,709.4 2114.0,713.4 2114.2,712.4 2114.5,706.4 2114.8,724.8 2115.0,723.6 2115.2,712.7 2115.5,728.0 2115.8,705.8 2116.0,718.3 2116.2,736.5 2116.5,720.6 2116.8,714.6 2117.0,720.0 2117.2,714.9 2117.5,709.2 2117.8,709.3 2118.0,716.0 2118.2,714.6 2118.5,718.5 2118.8,708.8 2119.0,718.1 2119.2,723.8 2119.5,710.7 2119.8,729.1 2120.0,709.6 2120.2,709.6 2120.5,710.5 2120.8,705.4 2121.0,702.5 2121.2,705.7 2121.5,713.4 2121.8,708.6 2122.0,727.9 2122.2,713.8 2122.5,712.0 2122.8,710.7 2123.0,719.3 2123.2,716.3 2123.5,718.3 2123.8,722.6 2124.0,728.6 2124.2,708.3 2124.5,721.7 2124.8,716.3 2125.0,718.1 2125.2,711.2 2125.5,721.2 2125.8,721.2 2126.0,719.1 2126.2,709.7 2126.5,721.9 2126.8,708.2 2127.0,703.5 2127.2,722.8 2127.5,715.1 2127.8,703.0 2128.0,710.4 2128.2,716.3 2128.5,724.2 2128.8,714.3 2129.0,709.5 2129.2,707.5 2129.5,705.0 2129.8,715.2 2130.0,709.8 2130.2,721.4 2130.5,710.4 2130.8,725.1 2131.0,714.5 2131.2,716.6 2131.5,715.4 2131.8,715.1 2132.0,729.7 2132.2,710.5 2132.5,712.1 2132.8,714.4 2133.0,721.9 2133.2,708.2 2133.5,728.4 2133.8,708.5 2134.0,711.8 2134.2,717.3" fill="none" stroke="#6b4329" stroke-width="4.8" stroke-linejoin="round" />
</svg>
</body></html>
